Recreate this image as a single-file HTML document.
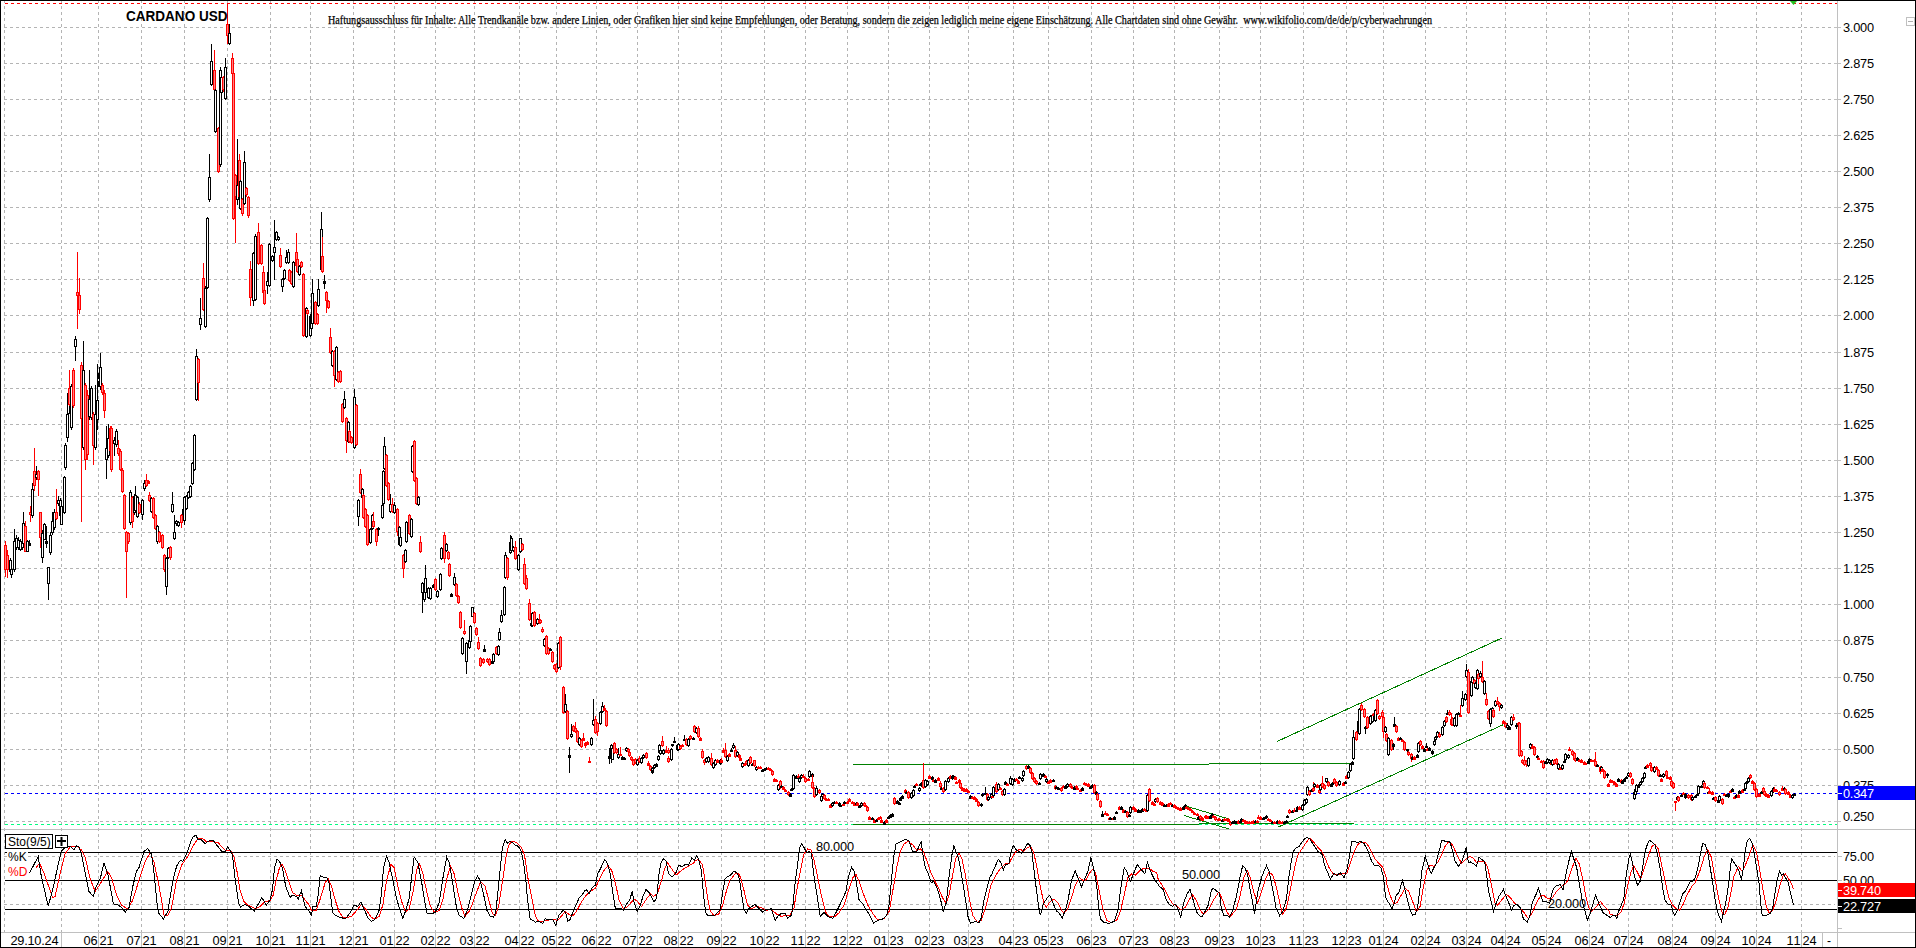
<!DOCTYPE html><html><head><meta charset="utf-8"><style>
html,body{margin:0;padding:0;background:#fff;overflow:hidden;}
svg{display:block;}
text{font-family:"Liberation Sans",sans-serif;}
</style></head><body>
<svg width="1916" height="948" viewBox="0 0 1916 948">
<rect x="0" y="0" width="1916" height="948" fill="#fff"/>
<path d="M4.5 0V932M61.5 0V932M98.5 0V932M141.5 0V932M184.5 0V932M227.5 0V932M270.5 0V932M310.5 0V932M353.5 0V932M394.5 0V932M435.5 0V932M474.5 0V932M519.5 0V932M556.5 0V932M596.5 0V932M637.5 0V932M678.5 0V932M721.5 0V932M764.5 0V932M805.5 0V932M847.5 0V932M888.5 0V932M929.5 0V932M968.5 0V932M1013.5 0V932M1048.5 0V932M1091.5 0V932M1133.5 0V932M1174.5 0V932M1219.5 0V932M1260.5 0V932M1303.5 0V932M1346.5 0V932M1383.5 0V932M1425.5 0V932M1466.5 0V932M1505.5 0V932M1546.5 0V932M1589.5 0V932M1628.5 0V932M1672.5 0V932M1715.5 0V932M1756.5 0V932M1801.5 0V932M4 27.5H1835M4 63.5H1835M4 99.5H1835M4 135.5H1835M4 171.5H1835M4 207.5H1835M4 243.5H1835M4 279.5H1835M4 315.5H1835M4 352.5H1835M4 388.5H1835M4 424.5H1835M4 460.5H1835M4 496.5H1835M4 532.5H1835M4 568.5H1835M4 604.5H1835M4 640.5H1835M4 677.5H1835M4 713.5H1835M4 749.5H1835M4 785.5H1835M4 821.5H1835M4 856.5H1835M4 904.5H1835" stroke="#b4b4b4" stroke-width="1" stroke-dasharray="3 3" fill="none" shape-rendering="crispEdges"/>
<path d="M61.5 933V947M98.5 933V947M141.5 933V947M184.5 933V947M227.5 933V947M270.5 933V947M310.5 933V947M353.5 933V947M394.5 933V947M435.5 933V947M474.5 933V947M519.5 933V947M556.5 933V947M596.5 933V947M637.5 933V947M678.5 933V947M721.5 933V947M764.5 933V947M805.5 933V947M847.5 933V947M888.5 933V947M929.5 933V947M968.5 933V947M1013.5 933V947M1048.5 933V947M1091.5 933V947M1133.5 933V947M1174.5 933V947M1219.5 933V947M1260.5 933V947M1303.5 933V947M1346.5 933V947M1383.5 933V947M1425.5 933V947M1466.5 933V947M1505.5 933V947M1546.5 933V947M1589.5 933V947M1628.5 933V947M1672.5 933V947M1715.5 933V947M1756.5 933V947M1801.5 933V947M1822.5 933V947M1834 27.5H1841M1834 63.5H1841M1834 99.5H1841M1834 135.5H1841M1834 171.5H1841M1834 207.5H1841M1834 243.5H1841M1834 279.5H1841M1834 315.5H1841M1834 352.5H1841M1834 388.5H1841M1834 424.5H1841M1834 460.5H1841M1834 496.5H1841M1834 532.5H1841M1834 568.5H1841M1834 604.5H1841M1834 640.5H1841M1834 677.5H1841M1834 713.5H1841M1834 749.5H1841M1834 785.5H1841M1834 821.5H1841M1838 856.5H1842M1838 880.5H1842M1838 904.5H1842M1838 928.5H1842" stroke="#c0c0c0" stroke-width="1" fill="none" shape-rendering="crispEdges"/>
<path d="M0 829.5H1916M0 932.5H1916M1837.5 0V948" stroke="#c0c0c0" stroke-width="1" fill="none" shape-rendering="crispEdges"/>
<path d="M5 3.5H1837" stroke="#ff0000" stroke-width="1" stroke-dasharray="3 3" shape-rendering="crispEdges"/>
<path d="M5 824.5H1837" stroke="#00ff80" stroke-width="1" stroke-dasharray="3 3" shape-rendering="crispEdges"/>
<path d="M5 793.5H1837" stroke="#0000ff" stroke-width="1" stroke-dasharray="3 3" shape-rendering="crispEdges"/>
<g stroke="#008000" stroke-width="1" fill="none" shape-rendering="crispEdges">
<path d="M853 765L1354 763.6"/>
<path d="M853 824.9L1354 823.6"/>
<path d="M1184 805.5L1229 819"/>
<path d="M1184 815.5L1229 829"/>
<path d="M1277.5 827.4L1503.2 724.7"/>
<path d="M1277 741.5L1502 638"/>
</g>
<g shape-rendering="crispEdges" stroke-width="1"><path d="M5.5 541V545M5.5 570V577" stroke="#f00"/><rect x="4.5" y="545.5" width="2" height="24" fill="#ff8080" stroke="#f00"/><path d="M7.5 550V555M7.5 570V578" stroke="#f00"/><rect x="6.5" y="555.5" width="2" height="14" fill="#ff8080" stroke="#f00"/><path d="M10.5 558V560" stroke="#000"/><rect x="9.5" y="560.5" width="2" height="11" fill="#fff" stroke="#000"/><path d="M11.5 566V569M11.5 575V578" stroke="#000"/><rect x="10.5" y="569.5" width="2" height="5" fill="#fff" stroke="#000"/><path d="M14.5 529V541M14.5 570V572" stroke="#000"/><rect x="13.5" y="541.5" width="2" height="28" fill="#fff" stroke="#000"/><path d="M16.5 535V538M16.5 548V550" stroke="#000"/><rect x="15.5" y="538.5" width="2" height="9" fill="#fff" stroke="#000"/><path d="M18.5 537V540M18.5 548V550" stroke="#000"/><rect x="17.5" y="540.5" width="2" height="7" fill="#fff" stroke="#000"/><path d="M20.5 539V541M20.5 550V551" stroke="#000"/><rect x="19.5" y="541.5" width="2" height="8" fill="#fff" stroke="#000"/><path d="M22.5 540V542M22.5 548V550" stroke="#000"/><rect x="21.5" y="542.5" width="2" height="5" fill="#fff" stroke="#000"/><path d="M23.5 512V523M23.5 544V546" stroke="#000"/><rect x="22.5" y="523.5" width="2" height="20" fill="#fff" stroke="#000"/><path d="M25.5 521V526" stroke="#f00"/><rect x="24.5" y="526.5" width="2" height="25" fill="#ff8080" stroke="#f00"/><path d="M27.5 540V541" stroke="#000"/><rect x="26.5" y="541.5" width="2" height="10" fill="#fff" stroke="#000"/><path d="M29.5 540V543M29.5 545V546" stroke="#000"/><rect x="28" y="543" width="3" height="3" fill="#000"/><path d="M30.5 506V512M30.5 515V522" stroke="#f00"/><rect x="29.5" y="512.5" width="2" height="2" fill="#ff8080" stroke="#f00"/><path d="M32.5 483V489M32.5 516V518" stroke="#000"/><rect x="31.5" y="489.5" width="2" height="26" fill="#fff" stroke="#000"/><path d="M34.5 448V471M34.5 486V491" stroke="#f00"/><rect x="33.5" y="471.5" width="2" height="14" fill="#ff8080" stroke="#f00"/><path d="M36.5 466V474M36.5 478V480" stroke="#000"/><rect x="35.5" y="474.5" width="2" height="3" fill="#fff" stroke="#000"/><path d="M38.5 470V471M38.5 480V496" stroke="#f00"/><rect x="37.5" y="471.5" width="2" height="8" fill="#ff8080" stroke="#f00"/><path d="M40.5 538V548" stroke="#f00"/><rect x="39.5" y="512.5" width="2" height="25" fill="#ff8080" stroke="#f00"/><path d="M42.5 530V533M42.5 558V563" stroke="#000"/><rect x="41.5" y="533.5" width="2" height="24" fill="#fff" stroke="#000"/><path d="M44.5 523V524" stroke="#000"/><rect x="43.5" y="524.5" width="2" height="15" fill="#fff" stroke="#000"/><path d="M46.5 526V541M46.5 543V548" stroke="#000"/><rect x="45" y="541" width="3" height="3" fill="#000"/><path d="M48.5 584V600" stroke="#000"/><rect x="47.5" y="567.5" width="2" height="16" fill="#fff" stroke="#000"/><path d="M50.5 532V535M50.5 553V555" stroke="#000"/><rect x="49.5" y="535.5" width="2" height="17" fill="#fff" stroke="#000"/><path d="M52.5 512V521M52.5 533V535" stroke="#000"/><rect x="51.5" y="521.5" width="2" height="11" fill="#fff" stroke="#000"/><path d="M54.5 509V512M54.5 528V530" stroke="#000"/><rect x="53.5" y="512.5" width="2" height="15" fill="#fff" stroke="#000"/><path d="M56.5 489V512M56.5 519V520" stroke="#f00"/><rect x="55.5" y="512.5" width="2" height="6" fill="#ff8080" stroke="#f00"/><path d="M58.5 496V500M58.5 504V506" stroke="#000"/><rect x="57.5" y="500.5" width="2" height="3" fill="#fff" stroke="#000"/><path d="M60.5 498V500M60.5 516V518" stroke="#000"/><rect x="59.5" y="500.5" width="2" height="15" fill="#fff" stroke="#000"/><path d="M61.5 504V506" stroke="#000"/><rect x="60.5" y="506.5" width="2" height="18" fill="#fff" stroke="#000"/><path d="M64.5 476V477M64.5 513V514" stroke="#000"/><rect x="63.5" y="477.5" width="2" height="35" fill="#fff" stroke="#000"/><path d="M65.5 443V445M65.5 468V470" stroke="#000"/><rect x="64.5" y="445.5" width="2" height="22" fill="#fff" stroke="#000"/><path d="M67.5 412V414M67.5 438V442" stroke="#000"/><rect x="66.5" y="414.5" width="2" height="23" fill="#fff" stroke="#000"/><path d="M68.5 390V393M68.5 414V416" stroke="#000"/><rect x="67.5" y="393.5" width="2" height="20" fill="#fff" stroke="#000"/><path d="M69.5 370V388M69.5 405V406" stroke="#f00"/><rect x="68.5" y="388.5" width="2" height="16" fill="#ff8080" stroke="#f00"/><path d="M71.5 384V386M71.5 428V430" stroke="#000"/><rect x="70.5" y="386.5" width="2" height="41" fill="#fff" stroke="#000"/><path d="M73.5 368V370M73.5 406V408" stroke="#f00"/><rect x="72.5" y="370.5" width="2" height="35" fill="#ff8080" stroke="#f00"/><path d="M75.5 336V339M75.5 347V361" stroke="#000"/><rect x="74.5" y="339.5" width="2" height="7" fill="#fff" stroke="#000"/><path d="M77.5 252V292M77.5 296V329" stroke="#f00"/><rect x="76.5" y="292.5" width="2" height="3" fill="#ff8080" stroke="#f00"/><path d="M79.5 278V295M79.5 310V314" stroke="#f00"/><rect x="78.5" y="295.5" width="2" height="14" fill="#ff8080" stroke="#f00"/><path d="M81.5 362V365M81.5 419V522" stroke="#f00"/><rect x="80.5" y="365.5" width="2" height="53" fill="#ff8080" stroke="#f00"/><path d="M83.5 341V370M83.5 448V450" stroke="#000"/><rect x="82.5" y="370.5" width="2" height="77" fill="#fff" stroke="#000"/><path d="M85.5 383V385M85.5 460V470" stroke="#f00"/><rect x="84.5" y="385.5" width="2" height="74" fill="#ff8080" stroke="#f00"/><path d="M87.5 390V395M87.5 455V460" stroke="#f00"/><rect x="86.5" y="395.5" width="2" height="59" fill="#ff8080" stroke="#f00"/><path d="M89.5 370V399M89.5 417V420" stroke="#000"/><rect x="88.5" y="399.5" width="2" height="17" fill="#fff" stroke="#000"/><path d="M91.5 386V388M91.5 418V420" stroke="#000"/><rect x="90.5" y="388.5" width="2" height="29" fill="#fff" stroke="#000"/><path d="M93.5 412V414M93.5 446V465" stroke="#f00"/><rect x="92.5" y="414.5" width="2" height="31" fill="#ff8080" stroke="#f00"/><path d="M95.5 385V414M95.5 448V450" stroke="#000"/><rect x="94.5" y="414.5" width="2" height="33" fill="#fff" stroke="#000"/><path d="M97.5 364V400M97.5 420V430" stroke="#000"/><rect x="96.5" y="400.5" width="2" height="19" fill="#fff" stroke="#000"/><path d="M98.5 373V378M98.5 382V387" stroke="#000"/><rect x="97.5" y="378.5" width="2" height="3" fill="#fff" stroke="#000"/><path d="M100.5 353V367M100.5 387V390" stroke="#000"/><rect x="99.5" y="367.5" width="2" height="19" fill="#fff" stroke="#000"/><path d="M102.5 383V385M102.5 393V395" stroke="#f00"/><rect x="101.5" y="385.5" width="2" height="7" fill="#ff8080" stroke="#f00"/><path d="M104.5 390V393M104.5 411V418" stroke="#f00"/><rect x="103.5" y="393.5" width="2" height="17" fill="#ff8080" stroke="#f00"/><path d="M106.5 426V448M106.5 460V479" stroke="#000"/><rect x="105.5" y="448.5" width="2" height="11" fill="#fff" stroke="#000"/><path d="M108.5 424V438M108.5 456V458" stroke="#000"/><rect x="107.5" y="438.5" width="2" height="17" fill="#fff" stroke="#000"/><path d="M110.5 426V428M110.5 451V452" stroke="#f00"/><rect x="109.5" y="428.5" width="2" height="22" fill="#ff8080" stroke="#f00"/><path d="M111.5 426V428M111.5 470V472" stroke="#f00"/><rect x="110.5" y="428.5" width="2" height="41" fill="#ff8080" stroke="#f00"/><path d="M114.5 437V440M114.5 444V456" stroke="#000"/><rect x="113.5" y="440.5" width="2" height="3" fill="#fff" stroke="#000"/><path d="M116.5 429V431M116.5 445V447" stroke="#000"/><rect x="115.5" y="431.5" width="2" height="13" fill="#fff" stroke="#000"/><path d="M118.5 440V448M118.5 454V456" stroke="#f00"/><rect x="117.5" y="448.5" width="2" height="5" fill="#ff8080" stroke="#f00"/><path d="M120.5 449V451M120.5 470V471" stroke="#f00"/><rect x="119.5" y="451.5" width="2" height="18" fill="#ff8080" stroke="#f00"/><path d="M122.5 468V470M122.5 492V493" stroke="#f00"/><rect x="121.5" y="470.5" width="2" height="21" fill="#ff8080" stroke="#f00"/><path d="M124.5 494V495M124.5 529V530" stroke="#f00"/><rect x="123.5" y="495.5" width="2" height="33" fill="#ff8080" stroke="#f00"/><path d="M126.5 531V532M126.5 552V598" stroke="#f00"/><rect x="125.5" y="532.5" width="2" height="19" fill="#ff8080" stroke="#f00"/><path d="M128.5 532V533M128.5 542V544" stroke="#f00"/><rect x="127.5" y="533.5" width="2" height="8" fill="#ff8080" stroke="#f00"/><path d="M130.5 490V492M130.5 523V525" stroke="#000"/><rect x="129.5" y="492.5" width="2" height="30" fill="#fff" stroke="#000"/><path d="M132.5 496V497M132.5 522V528" stroke="#f00"/><rect x="131.5" y="497.5" width="2" height="24" fill="#ff8080" stroke="#f00"/><path d="M134.5 494V496M134.5 513V515" stroke="#000"/><rect x="133.5" y="496.5" width="2" height="16" fill="#fff" stroke="#000"/><path d="M135.5 486V495M135.5 511V513" stroke="#000"/><rect x="134.5" y="495.5" width="2" height="15" fill="#fff" stroke="#000"/><path d="M137.5 496V497M137.5 517V518" stroke="#000"/><rect x="136.5" y="497.5" width="2" height="19" fill="#fff" stroke="#000"/><path d="M139.5 502V504M139.5 513V514" stroke="#f00"/><rect x="138.5" y="504.5" width="2" height="8" fill="#ff8080" stroke="#f00"/><path d="M142.5 499V500M142.5 515V520" stroke="#000"/><rect x="141.5" y="500.5" width="2" height="14" fill="#fff" stroke="#000"/><path d="M144.5 480V483M144.5 489V491" stroke="#000"/><rect x="143.5" y="483.5" width="2" height="5" fill="#fff" stroke="#000"/><path d="M146.5 474V480M146.5 486V487" stroke="#f00"/><rect x="145.5" y="480.5" width="2" height="5" fill="#ff8080" stroke="#f00"/><path d="M148.5 480V481M148.5 483V484" stroke="#f00"/><rect x="147" y="481" width="3" height="3" fill="#f00"/><path d="M149.5 492V495M149.5 501V502" stroke="#f00"/><rect x="148.5" y="495.5" width="2" height="5" fill="#ff8080" stroke="#f00"/><path d="M151.5 497V498M151.5 512V513" stroke="#000"/><rect x="150.5" y="498.5" width="2" height="13" fill="#fff" stroke="#000"/><path d="M153.5 497V498M153.5 518V519" stroke="#f00"/><rect x="152.5" y="498.5" width="2" height="19" fill="#ff8080" stroke="#f00"/><path d="M155.5 514V515M155.5 529V530" stroke="#f00"/><rect x="154.5" y="515.5" width="2" height="13" fill="#ff8080" stroke="#f00"/><path d="M157.5 525V526M157.5 542V544" stroke="#000"/><rect x="156.5" y="526.5" width="2" height="15" fill="#fff" stroke="#000"/><path d="M159.5 531V532M159.5 542V543" stroke="#f00"/><rect x="158.5" y="532.5" width="2" height="9" fill="#ff8080" stroke="#f00"/><path d="M162.5 534V535M162.5 548V549" stroke="#f00"/><rect x="161.5" y="535.5" width="2" height="12" fill="#ff8080" stroke="#f00"/><path d="M164.5 554V555M164.5 570V572" stroke="#f00"/><rect x="163.5" y="555.5" width="2" height="14" fill="#ff8080" stroke="#f00"/><path d="M166.5 557V558M166.5 587V595" stroke="#000"/><rect x="165.5" y="558.5" width="2" height="28" fill="#fff" stroke="#000"/><path d="M168.5 547V548M168.5 558V559" stroke="#000"/><rect x="167.5" y="548.5" width="2" height="9" fill="#fff" stroke="#000"/><path d="M170.5 546V547M170.5 558V560" stroke="#f00"/><rect x="169.5" y="547.5" width="2" height="10" fill="#ff8080" stroke="#f00"/><path d="M172.5 492V504M172.5 512V513" stroke="#000"/><rect x="171.5" y="504.5" width="2" height="7" fill="#fff" stroke="#000"/><path d="M174.5 515V532M174.5 539V540" stroke="#000"/><rect x="173.5" y="532.5" width="2" height="6" fill="#fff" stroke="#000"/><path d="M176.5 520V521M176.5 524V526" stroke="#000"/><rect x="175.5" y="521.5" width="2" height="2" fill="#fff" stroke="#000"/><path d="M178.5 521V522M178.5 526V527" stroke="#000"/><rect x="177.5" y="522.5" width="2" height="3" fill="#fff" stroke="#000"/><path d="M181.5 514V515M181.5 523V528" stroke="#f00"/><rect x="180.5" y="515.5" width="2" height="7" fill="#ff8080" stroke="#f00"/><path d="M183.5 508V509M183.5 515V516" stroke="#000"/><rect x="182.5" y="509.5" width="2" height="5" fill="#fff" stroke="#000"/><path d="M184.5 496V497M184.5 521V525" stroke="#000"/><rect x="183.5" y="497.5" width="2" height="23" fill="#fff" stroke="#000"/><path d="M186.5 495V496M186.5 509V510" stroke="#000"/><rect x="185.5" y="496.5" width="2" height="12" fill="#fff" stroke="#000"/><path d="M188.5 491V492M188.5 498V499" stroke="#000"/><rect x="187.5" y="492.5" width="2" height="5" fill="#fff" stroke="#000"/><path d="M190.5 485V486M190.5 497V498" stroke="#000"/><rect x="189.5" y="486.5" width="2" height="10" fill="#fff" stroke="#000"/><path d="M192.5 462V463M192.5 484V485" stroke="#000"/><rect x="191.5" y="463.5" width="2" height="20" fill="#fff" stroke="#000"/><path d="M194.5 434V435M194.5 470V471" stroke="#000"/><rect x="193.5" y="435.5" width="2" height="34" fill="#fff" stroke="#000"/><path d="M196.5 349V356M196.5 400V401" stroke="#000"/><rect x="195.5" y="356.5" width="2" height="43" fill="#fff" stroke="#000"/><path d="M198.5 358V359M198.5 383V401" stroke="#f00"/><rect x="197.5" y="359.5" width="2" height="23" fill="#ff8080" stroke="#f00"/><path d="M200.5 298V318M200.5 325V330" stroke="#000"/><rect x="199.5" y="318.5" width="2" height="6" fill="#fff" stroke="#000"/><path d="M203.5 263V278M203.5 310V311" stroke="#f00"/><rect x="202.5" y="278.5" width="2" height="31" fill="#ff8080" stroke="#f00"/><path d="M205.5 286V288M205.5 327V328" stroke="#000"/><rect x="204.5" y="288.5" width="2" height="38" fill="#fff" stroke="#000"/><path d="M207.5 217V218M207.5 288V289" stroke="#000"/><rect x="206.5" y="218.5" width="2" height="69" fill="#fff" stroke="#000"/><path d="M209.5 154V177M209.5 200V202" stroke="#000"/><rect x="208.5" y="177.5" width="2" height="22" fill="#fff" stroke="#000"/><path d="M211.5 44V61M211.5 85V86" stroke="#000"/><rect x="210.5" y="61.5" width="2" height="23" fill="#fff" stroke="#000"/><path d="M214.5 50V70M214.5 90V130" stroke="#f00"/><rect x="213.5" y="70.5" width="2" height="19" fill="#ff8080" stroke="#f00"/><path d="M215.5 89V90M215.5 132V133" stroke="#000"/><rect x="214.5" y="90.5" width="2" height="41" fill="#fff" stroke="#000"/><path d="M218.5 127V128M218.5 172V173" stroke="#f00"/><rect x="217.5" y="128.5" width="2" height="43" fill="#ff8080" stroke="#f00"/><path d="M220.5 67V70M220.5 165V167" stroke="#000"/><rect x="219.5" y="70.5" width="2" height="94" fill="#fff" stroke="#000"/><path d="M221.5 76V77M221.5 93V94" stroke="#000"/><rect x="220.5" y="77.5" width="2" height="15" fill="#fff" stroke="#000"/><path d="M223.5 76V77M223.5 90V92" stroke="#f00"/><rect x="222.5" y="77.5" width="2" height="12" fill="#ff8080" stroke="#f00"/><path d="M225.5 58V67M225.5 99V100" stroke="#000"/><rect x="224.5" y="67.5" width="2" height="31" fill="#fff" stroke="#000"/><path d="M227.5 3V24M227.5 36V44" stroke="#f00"/><rect x="226.5" y="24.5" width="2" height="11" fill="#ff8080" stroke="#f00"/><path d="M229.5 24V33M229.5 44V45" stroke="#000"/><rect x="228.5" y="33.5" width="2" height="10" fill="#fff" stroke="#000"/><path d="M232.5 53V58M232.5 74V75" stroke="#f00"/><rect x="231.5" y="58.5" width="2" height="15" fill="#ff8080" stroke="#f00"/><path d="M233.5 72V73M233.5 219V220" stroke="#f00"/><rect x="232.5" y="73.5" width="2" height="145" fill="#ff8080" stroke="#f00"/><path d="M235.5 174V175M235.5 197V243" stroke="#f00"/><rect x="234.5" y="175.5" width="2" height="21" fill="#ff8080" stroke="#f00"/><path d="M237.5 139V185M237.5 200V205" stroke="#000"/><rect x="236.5" y="185.5" width="2" height="14" fill="#fff" stroke="#000"/><path d="M239.5 154V160M239.5 197V198" stroke="#f00"/><rect x="238.5" y="160.5" width="2" height="36" fill="#ff8080" stroke="#f00"/><path d="M240.5 180V181M240.5 209V210" stroke="#000"/><rect x="239.5" y="181.5" width="2" height="27" fill="#fff" stroke="#000"/><path d="M242.5 198V199M242.5 214V216" stroke="#f00"/><rect x="241.5" y="199.5" width="2" height="14" fill="#ff8080" stroke="#f00"/><path d="M244.5 151V162M244.5 204V205" stroke="#000"/><rect x="243.5" y="162.5" width="2" height="41" fill="#fff" stroke="#000"/><path d="M246.5 187V188M246.5 195V197" stroke="#f00"/><rect x="245.5" y="188.5" width="2" height="6" fill="#ff8080" stroke="#f00"/><path d="M248.5 196V197M248.5 216V218" stroke="#f00"/><rect x="247.5" y="197.5" width="2" height="18" fill="#ff8080" stroke="#f00"/><path d="M250.5 261V269M250.5 298V306" stroke="#f00"/><rect x="249.5" y="269.5" width="2" height="28" fill="#ff8080" stroke="#f00"/><path d="M253.5 252V253M253.5 301V306" stroke="#000"/><rect x="252.5" y="253.5" width="2" height="47" fill="#fff" stroke="#000"/><path d="M255.5 234V236M255.5 300V301" stroke="#000"/><rect x="254.5" y="236.5" width="2" height="63" fill="#fff" stroke="#000"/><path d="M258.5 223V232M258.5 264V265" stroke="#f00"/><rect x="257.5" y="232.5" width="2" height="31" fill="#ff8080" stroke="#f00"/><path d="M261.5 244V245M261.5 264V265" stroke="#f00"/><rect x="260.5" y="245.5" width="2" height="18" fill="#ff8080" stroke="#f00"/><path d="M263.5 266V272M263.5 293V294" stroke="#f00"/><rect x="262.5" y="272.5" width="2" height="20" fill="#ff8080" stroke="#f00"/><path d="M264.5 289V290M264.5 304V305" stroke="#f00"/><rect x="263.5" y="290.5" width="2" height="13" fill="#ff8080" stroke="#f00"/><path d="M267.5 272V281M267.5 286V294" stroke="#000"/><rect x="266.5" y="281.5" width="2" height="4" fill="#fff" stroke="#000"/><path d="M269.5 243V244M269.5 286V287" stroke="#000"/><rect x="268.5" y="244.5" width="2" height="41" fill="#fff" stroke="#000"/><path d="M272.5 255V256M272.5 261V262" stroke="#000"/><rect x="271.5" y="256.5" width="2" height="4" fill="#fff" stroke="#000"/><path d="M274.5 220V247M274.5 253V280" stroke="#000"/><rect x="273.5" y="247.5" width="2" height="5" fill="#fff" stroke="#000"/><path d="M276.5 231V232M276.5 240V241" stroke="#000"/><rect x="275.5" y="232.5" width="2" height="7" fill="#fff" stroke="#000"/><path d="M278.5 236V237M278.5 240V241" stroke="#000"/><rect x="277.5" y="237.5" width="2" height="2" fill="#fff" stroke="#000"/><path d="M280.5 248V255M280.5 267V268" stroke="#f00"/><rect x="279.5" y="255.5" width="2" height="11" fill="#ff8080" stroke="#f00"/><path d="M282.5 278V279M282.5 287V292" stroke="#000"/><rect x="281.5" y="279.5" width="2" height="7" fill="#fff" stroke="#000"/><path d="M284.5 269V270M284.5 279V280" stroke="#000"/><rect x="283.5" y="270.5" width="2" height="8" fill="#fff" stroke="#000"/><path d="M286.5 250V257M286.5 263V264" stroke="#000"/><rect x="285.5" y="257.5" width="2" height="5" fill="#fff" stroke="#000"/><path d="M288.5 249V252M288.5 263V264" stroke="#000"/><rect x="287.5" y="252.5" width="2" height="10" fill="#fff" stroke="#000"/><path d="M289.5 269V270M289.5 281V282" stroke="#f00"/><rect x="288.5" y="270.5" width="2" height="10" fill="#ff8080" stroke="#f00"/><path d="M291.5 271V272M291.5 284V285" stroke="#f00"/><rect x="290.5" y="272.5" width="2" height="11" fill="#ff8080" stroke="#f00"/><path d="M293.5 261V262M293.5 287V288" stroke="#000"/><rect x="292.5" y="262.5" width="2" height="24" fill="#fff" stroke="#000"/><path d="M296.5 233V252M296.5 266V267" stroke="#f00"/><rect x="295.5" y="252.5" width="2" height="13" fill="#ff8080" stroke="#f00"/><path d="M297.5 258V259M297.5 272V273" stroke="#f00"/><rect x="296.5" y="259.5" width="2" height="12" fill="#ff8080" stroke="#f00"/><path d="M299.5 265V266M299.5 275V276" stroke="#000"/><rect x="298.5" y="266.5" width="2" height="8" fill="#fff" stroke="#000"/><path d="M301.5 261V262M301.5 267V268" stroke="#f00"/><rect x="300.5" y="262.5" width="2" height="4" fill="#ff8080" stroke="#f00"/><path d="M303.5 273V274M303.5 336V337" stroke="#f00"/><rect x="302.5" y="274.5" width="2" height="61" fill="#ff8080" stroke="#f00"/><path d="M306.5 307V308M306.5 337V338" stroke="#000"/><rect x="305.5" y="308.5" width="2" height="28" fill="#fff" stroke="#000"/><path d="M307.5 309V310M307.5 314V315" stroke="#f00"/><rect x="306.5" y="310.5" width="2" height="3" fill="#ff8080" stroke="#f00"/><path d="M310.5 315V316M310.5 336V337" stroke="#000"/><rect x="309.5" y="316.5" width="2" height="19" fill="#fff" stroke="#000"/><path d="M311.5 313V314M311.5 329V330" stroke="#000"/><rect x="310.5" y="314.5" width="2" height="14" fill="#fff" stroke="#000"/><path d="M312.5 279V293M312.5 324V325" stroke="#000"/><rect x="311.5" y="293.5" width="2" height="30" fill="#fff" stroke="#000"/><path d="M315.5 301V302M315.5 324V325" stroke="#f00"/><rect x="314.5" y="302.5" width="2" height="21" fill="#ff8080" stroke="#f00"/><path d="M317.5 313V314M317.5 324V325" stroke="#f00"/><rect x="316.5" y="314.5" width="2" height="9" fill="#ff8080" stroke="#f00"/><path d="M318.5 279V289M318.5 306V307" stroke="#000"/><rect x="317.5" y="289.5" width="2" height="16" fill="#fff" stroke="#000"/><path d="M321.5 212V229M321.5 270V271" stroke="#000"/><rect x="320.5" y="229.5" width="2" height="40" fill="#fff" stroke="#000"/><path d="M322.5 237V256M322.5 272V273" stroke="#f00"/><rect x="321.5" y="256.5" width="2" height="15" fill="#ff8080" stroke="#f00"/><path d="M324.5 275V281M324.5 283V289" stroke="#000"/><rect x="323" y="281" width="3" height="3" fill="#000"/><path d="M326.5 291V292M326.5 301V313" stroke="#f00"/><rect x="325.5" y="292.5" width="2" height="8" fill="#ff8080" stroke="#f00"/><path d="M328.5 300V301M328.5 308V309" stroke="#f00"/><rect x="327.5" y="301.5" width="2" height="6" fill="#ff8080" stroke="#f00"/><path d="M330.5 328V337M330.5 353V354" stroke="#f00"/><rect x="329.5" y="337.5" width="2" height="15" fill="#ff8080" stroke="#f00"/><path d="M332.5 350V351M332.5 366V367" stroke="#000"/><rect x="331.5" y="351.5" width="2" height="14" fill="#fff" stroke="#000"/><path d="M334.5 350V351M334.5 376V387" stroke="#f00"/><rect x="333.5" y="351.5" width="2" height="24" fill="#ff8080" stroke="#f00"/><path d="M336.5 346V347M336.5 380V381" stroke="#000"/><rect x="335.5" y="347.5" width="2" height="32" fill="#fff" stroke="#000"/><path d="M338.5 371V372M338.5 382V383" stroke="#f00"/><rect x="337.5" y="372.5" width="2" height="9" fill="#ff8080" stroke="#f00"/><path d="M340.5 370V371M340.5 382V383" stroke="#f00"/><rect x="339.5" y="371.5" width="2" height="10" fill="#ff8080" stroke="#f00"/><path d="M342.5 403V404M342.5 422V423" stroke="#f00"/><rect x="341.5" y="404.5" width="2" height="17" fill="#ff8080" stroke="#f00"/><path d="M344.5 391V399M344.5 408V409" stroke="#000"/><rect x="343.5" y="399.5" width="2" height="8" fill="#fff" stroke="#000"/><path d="M346.5 417V418M346.5 441V453" stroke="#f00"/><rect x="345.5" y="418.5" width="2" height="22" fill="#ff8080" stroke="#f00"/><path d="M348.5 421V422M348.5 442V443" stroke="#000"/><rect x="347.5" y="422.5" width="2" height="19" fill="#fff" stroke="#000"/><path d="M349.5 430V431M349.5 442V443" stroke="#f00"/><rect x="348.5" y="431.5" width="2" height="10" fill="#ff8080" stroke="#f00"/><path d="M351.5 436V437M351.5 443V444" stroke="#f00"/><rect x="350.5" y="437.5" width="2" height="5" fill="#ff8080" stroke="#f00"/><path d="M354.5 389V397M354.5 448V449" stroke="#000"/><rect x="353.5" y="397.5" width="2" height="50" fill="#fff" stroke="#000"/><path d="M356.5 404V405M356.5 445V446" stroke="#f00"/><rect x="355.5" y="405.5" width="2" height="39" fill="#ff8080" stroke="#f00"/><path d="M358.5 499V500M358.5 517V526" stroke="#000"/><rect x="357.5" y="500.5" width="2" height="16" fill="#fff" stroke="#000"/><path d="M360.5 469V474M360.5 493V494" stroke="#f00"/><rect x="359.5" y="474.5" width="2" height="18" fill="#ff8080" stroke="#f00"/><path d="M362.5 488V489M362.5 498V499" stroke="#000"/><rect x="361.5" y="489.5" width="2" height="8" fill="#fff" stroke="#000"/><path d="M363.5 494V495M363.5 518V519" stroke="#f00"/><rect x="362.5" y="495.5" width="2" height="22" fill="#ff8080" stroke="#f00"/><path d="M365.5 508V509M365.5 527V528" stroke="#f00"/><rect x="364.5" y="509.5" width="2" height="17" fill="#ff8080" stroke="#f00"/><path d="M367.5 514V515M367.5 545V546" stroke="#f00"/><rect x="366.5" y="515.5" width="2" height="29" fill="#ff8080" stroke="#f00"/><path d="M370.5 528V529M370.5 543V544" stroke="#000"/><rect x="369.5" y="529.5" width="2" height="13" fill="#fff" stroke="#000"/><path d="M372.5 514V515M372.5 529V530" stroke="#000"/><rect x="371.5" y="515.5" width="2" height="13" fill="#fff" stroke="#000"/><path d="M373.5 512V521M373.5 527V528" stroke="#f00"/><rect x="372.5" y="521.5" width="2" height="5" fill="#ff8080" stroke="#f00"/><path d="M376.5 528V529M376.5 542V546" stroke="#f00"/><rect x="375.5" y="529.5" width="2" height="12" fill="#ff8080" stroke="#f00"/><path d="M378.5 527V528M378.5 529V536" stroke="#000"/><rect x="377" y="528" width="3" height="2" fill="#000"/><path d="M382.5 504V505M382.5 518V519" stroke="#000"/><rect x="381.5" y="505.5" width="2" height="12" fill="#fff" stroke="#000"/><path d="M383.5 470V471M383.5 504V505" stroke="#000"/><rect x="382.5" y="471.5" width="2" height="32" fill="#fff" stroke="#000"/><path d="M384.5 437V446M384.5 469V470" stroke="#000"/><rect x="383.5" y="446.5" width="2" height="22" fill="#fff" stroke="#000"/><path d="M386.5 454V455M386.5 486V487" stroke="#f00"/><rect x="385.5" y="455.5" width="2" height="30" fill="#ff8080" stroke="#f00"/><path d="M388.5 482V483M388.5 500V501" stroke="#f00"/><rect x="387.5" y="483.5" width="2" height="16" fill="#ff8080" stroke="#f00"/><path d="M390.5 494V504M390.5 512V513" stroke="#000"/><rect x="389.5" y="504.5" width="2" height="7" fill="#fff" stroke="#000"/><path d="M392.5 498V504M392.5 512V513" stroke="#f00"/><rect x="391.5" y="504.5" width="2" height="7" fill="#ff8080" stroke="#f00"/><path d="M394.5 502V505M394.5 513V514" stroke="#000"/><rect x="393.5" y="505.5" width="2" height="7" fill="#fff" stroke="#000"/><path d="M397.5 508V509M397.5 532V536" stroke="#f00"/><rect x="396.5" y="509.5" width="2" height="22" fill="#ff8080" stroke="#f00"/><path d="M399.5 526V527M399.5 545V546" stroke="#000"/><rect x="398.5" y="527.5" width="2" height="17" fill="#fff" stroke="#000"/><path d="M400.5 536V537M400.5 546V547" stroke="#000"/><rect x="399.5" y="537.5" width="2" height="8" fill="#fff" stroke="#000"/><path d="M403.5 554V555M403.5 569V578" stroke="#f00"/><rect x="402.5" y="555.5" width="2" height="13" fill="#ff8080" stroke="#f00"/><path d="M405.5 549V550M405.5 562V563" stroke="#000"/><rect x="404.5" y="550.5" width="2" height="11" fill="#fff" stroke="#000"/><path d="M406.5 521V522M406.5 542V543" stroke="#000"/><rect x="405.5" y="522.5" width="2" height="19" fill="#fff" stroke="#000"/><path d="M409.5 514V515M409.5 534V535" stroke="#f00"/><rect x="408.5" y="515.5" width="2" height="18" fill="#ff8080" stroke="#f00"/><path d="M411.5 518V519M411.5 537V538" stroke="#000"/><rect x="410.5" y="519.5" width="2" height="17" fill="#fff" stroke="#000"/><path d="M412.5 445V446M412.5 472V473" stroke="#000"/><rect x="411.5" y="446.5" width="2" height="25" fill="#fff" stroke="#000"/><path d="M414.5 440V441M414.5 481V482" stroke="#f00"/><rect x="413.5" y="441.5" width="2" height="39" fill="#ff8080" stroke="#f00"/><path d="M416.5 477V478M416.5 504V505" stroke="#f00"/><rect x="415.5" y="478.5" width="2" height="25" fill="#ff8080" stroke="#f00"/><path d="M418.5 496V497M418.5 505V506" stroke="#000"/><rect x="417.5" y="497.5" width="2" height="7" fill="#fff" stroke="#000"/><path d="M420.5 536V542M420.5 552V553" stroke="#f00"/><rect x="419.5" y="542.5" width="2" height="9" fill="#ff8080" stroke="#f00"/><path d="M422.5 582V583M422.5 593V613" stroke="#000"/><rect x="421.5" y="583.5" width="2" height="9" fill="#fff" stroke="#000"/><path d="M424.5 587V588M424.5 600V602" stroke="#000"/><rect x="423.5" y="588.5" width="2" height="11" fill="#fff" stroke="#000"/><path d="M425.5 565V578M425.5 593V594" stroke="#000"/><rect x="424.5" y="578.5" width="2" height="14" fill="#fff" stroke="#000"/><path d="M428.5 587V588M428.5 598V599" stroke="#000"/><rect x="427.5" y="588.5" width="2" height="9" fill="#fff" stroke="#000"/><path d="M430.5 587V588M430.5 599V600" stroke="#000"/><rect x="429.5" y="588.5" width="2" height="10" fill="#fff" stroke="#000"/><path d="M433.5 584V585M433.5 587V588" stroke="#000"/><rect x="432" y="585" width="3" height="3" fill="#000"/><path d="M435.5 578V579M435.5 590V591" stroke="#f00"/><rect x="434.5" y="579.5" width="2" height="10" fill="#ff8080" stroke="#f00"/><path d="M437.5 590V591M437.5 597V598" stroke="#000"/><rect x="436.5" y="591.5" width="2" height="5" fill="#fff" stroke="#000"/><path d="M440.5 573V574M440.5 590V591" stroke="#000"/><rect x="439.5" y="574.5" width="2" height="15" fill="#fff" stroke="#000"/><path d="M441.5 547V548M441.5 559V560" stroke="#000"/><rect x="440.5" y="548.5" width="2" height="10" fill="#fff" stroke="#000"/><path d="M444.5 532V535M444.5 559V563" stroke="#f00"/><rect x="443.5" y="535.5" width="2" height="23" fill="#ff8080" stroke="#f00"/><path d="M446.5 543V544M446.5 551V552" stroke="#000"/><rect x="445.5" y="544.5" width="2" height="6" fill="#fff" stroke="#000"/><path d="M448.5 551V552M448.5 559V560" stroke="#f00"/><rect x="447.5" y="552.5" width="2" height="6" fill="#ff8080" stroke="#f00"/><path d="M449.5 563V564M449.5 576V577" stroke="#f00"/><rect x="448.5" y="564.5" width="2" height="11" fill="#ff8080" stroke="#f00"/><path d="M451.5 593V594M451.5 596V597" stroke="#000"/><rect x="450" y="594" width="3" height="3" fill="#000"/><path d="M454.5 573V577M454.5 585V586" stroke="#000"/><rect x="453.5" y="577.5" width="2" height="7" fill="#fff" stroke="#000"/><path d="M456.5 583V584M456.5 596V597" stroke="#f00"/><rect x="455.5" y="584.5" width="2" height="11" fill="#ff8080" stroke="#f00"/><path d="M458.5 595V596M458.5 603V604" stroke="#f00"/><rect x="457.5" y="596.5" width="2" height="6" fill="#ff8080" stroke="#f00"/><path d="M460.5 611V612M460.5 628V629" stroke="#f00"/><rect x="459.5" y="612.5" width="2" height="15" fill="#ff8080" stroke="#f00"/><path d="M462.5 637V638M462.5 654V655" stroke="#000"/><rect x="461.5" y="638.5" width="2" height="15" fill="#fff" stroke="#000"/><path d="M464.5 620V631M464.5 634V635" stroke="#f00"/><rect x="463.5" y="631.5" width="2" height="2" fill="#ff8080" stroke="#f00"/><path d="M466.5 642V643M466.5 662V674" stroke="#000"/><rect x="465.5" y="643.5" width="2" height="18" fill="#fff" stroke="#000"/><path d="M469.5 639V640M469.5 648V649" stroke="#000"/><rect x="468.5" y="640.5" width="2" height="7" fill="#fff" stroke="#000"/><path d="M470.5 625V626M470.5 642V643" stroke="#000"/><rect x="469.5" y="626.5" width="2" height="15" fill="#fff" stroke="#000"/><rect x="471.5" y="607.5" width="2" height="9" fill="#fff" stroke="#000"/><path d="M474.5 612V613M474.5 623V624" stroke="#f00"/><rect x="473.5" y="613.5" width="2" height="9" fill="#ff8080" stroke="#f00"/><path d="M476.5 627V628M476.5 635V636" stroke="#f00"/><rect x="475.5" y="628.5" width="2" height="6" fill="#ff8080" stroke="#f00"/><path d="M478.5 637V642M478.5 649V650" stroke="#f00"/><rect x="477.5" y="642.5" width="2" height="6" fill="#ff8080" stroke="#f00"/><path d="M480.5 657V658M480.5 666V667" stroke="#f00"/><rect x="479.5" y="658.5" width="2" height="7" fill="#ff8080" stroke="#f00"/><path d="M483.5 658V659M483.5 663V664" stroke="#f00"/><rect x="482.5" y="659.5" width="2" height="3" fill="#ff8080" stroke="#f00"/><path d="M484.5 645V649M484.5 651V652" stroke="#000"/><rect x="483" y="649" width="3" height="3" fill="#000"/><path d="M487.5 658V659M487.5 662V663" stroke="#f00"/><rect x="486.5" y="659.5" width="2" height="2" fill="#ff8080" stroke="#f00"/><path d="M489.5 658V659M489.5 665V666" stroke="#f00"/><rect x="488.5" y="659.5" width="2" height="5" fill="#ff8080" stroke="#f00"/><path d="M492.5 660V661M492.5 663V664" stroke="#000"/><rect x="491" y="661" width="3" height="3" fill="#000"/><path d="M493.5 653V654M493.5 662V663" stroke="#000"/><rect x="492.5" y="654.5" width="2" height="7" fill="#fff" stroke="#000"/><path d="M496.5 646V647M496.5 654V655" stroke="#f00"/><rect x="495.5" y="647.5" width="2" height="6" fill="#ff8080" stroke="#f00"/><path d="M498.5 645V646M498.5 655V656" stroke="#000"/><rect x="497.5" y="646.5" width="2" height="8" fill="#fff" stroke="#000"/><path d="M499.5 628V632M499.5 640V641" stroke="#000"/><rect x="498.5" y="632.5" width="2" height="7" fill="#fff" stroke="#000"/><path d="M501.5 610V615M501.5 622V623" stroke="#000"/><rect x="500.5" y="615.5" width="2" height="6" fill="#fff" stroke="#000"/><path d="M504.5 586V587M504.5 615V616" stroke="#000"/><rect x="503.5" y="587.5" width="2" height="27" fill="#fff" stroke="#000"/><path d="M505.5 552V555M505.5 578V579" stroke="#000"/><rect x="504.5" y="555.5" width="2" height="22" fill="#fff" stroke="#000"/><path d="M507.5 557V558M507.5 578V580" stroke="#f00"/><rect x="506.5" y="558.5" width="2" height="19" fill="#ff8080" stroke="#f00"/><path d="M510.5 535V542M510.5 553V554" stroke="#000"/><rect x="509.5" y="542.5" width="2" height="10" fill="#fff" stroke="#000"/><path d="M511.5 536V538M511.5 551V552" stroke="#000"/><rect x="510.5" y="538.5" width="2" height="12" fill="#fff" stroke="#000"/><path d="M513.5 546V547M513.5 551V552" stroke="#000"/><rect x="512.5" y="547.5" width="2" height="3" fill="#fff" stroke="#000"/><path d="M515.5 541V547M515.5 559V560" stroke="#f00"/><rect x="514.5" y="547.5" width="2" height="11" fill="#ff8080" stroke="#f00"/><path d="M518.5 554V555M518.5 570V571" stroke="#000"/><rect x="517.5" y="555.5" width="2" height="14" fill="#fff" stroke="#000"/><path d="M520.5 552V553" stroke="#000"/><rect x="519.5" y="538.5" width="2" height="13" fill="#fff" stroke="#000"/><path d="M522.5 543V544M522.5 550V551" stroke="#f00"/><rect x="521.5" y="544.5" width="2" height="5" fill="#ff8080" stroke="#f00"/><path d="M524.5 558V564M524.5 584V585" stroke="#f00"/><rect x="523.5" y="564.5" width="2" height="19" fill="#ff8080" stroke="#f00"/><path d="M526.5 575V578M526.5 589V590" stroke="#f00"/><rect x="525.5" y="578.5" width="2" height="10" fill="#ff8080" stroke="#f00"/><path d="M529.5 599V603M529.5 620V621" stroke="#f00"/><rect x="528.5" y="603.5" width="2" height="16" fill="#ff8080" stroke="#f00"/><path d="M531.5 622V623M531.5 626V627" stroke="#000"/><rect x="530.5" y="623.5" width="2" height="2" fill="#fff" stroke="#000"/><path d="M532.5 612V613M532.5 626V627" stroke="#000"/><rect x="531.5" y="613.5" width="2" height="12" fill="#fff" stroke="#000"/><path d="M534.5 611V612M534.5 626V627" stroke="#f00"/><rect x="533.5" y="612.5" width="2" height="13" fill="#ff8080" stroke="#f00"/><path d="M537.5 618V619M537.5 624V625" stroke="#000"/><rect x="536.5" y="619.5" width="2" height="4" fill="#fff" stroke="#000"/><path d="M539.5 614V620M539.5 623V624" stroke="#f00"/><rect x="538.5" y="620.5" width="2" height="2" fill="#ff8080" stroke="#f00"/><path d="M540.5 619V620M540.5 623V624" stroke="#f00"/><rect x="539.5" y="620.5" width="2" height="2" fill="#ff8080" stroke="#f00"/><path d="M542.5 627V629M542.5 632V633" stroke="#f00"/><rect x="541.5" y="629.5" width="2" height="2" fill="#ff8080" stroke="#f00"/><path d="M544.5 638V639M544.5 646V647" stroke="#000"/><rect x="543.5" y="639.5" width="2" height="6" fill="#fff" stroke="#000"/><path d="M546.5 635V636M546.5 654V655" stroke="#f00"/><rect x="545.5" y="636.5" width="2" height="17" fill="#ff8080" stroke="#f00"/><path d="M548.5 647V648M548.5 654V655" stroke="#f00"/><rect x="547.5" y="648.5" width="2" height="5" fill="#ff8080" stroke="#f00"/><path d="M550.5 648V649M550.5 650V651" stroke="#000"/><rect x="549" y="649" width="3" height="2" fill="#000"/><path d="M552.5 651V652M552.5 662V663" stroke="#f00"/><rect x="551.5" y="652.5" width="2" height="9" fill="#ff8080" stroke="#f00"/><path d="M554.5 664V665M554.5 669V670" stroke="#f00"/><rect x="553.5" y="665.5" width="2" height="3" fill="#ff8080" stroke="#f00"/><path d="M556.5 663V664M556.5 672V673" stroke="#f00"/><rect x="555.5" y="664.5" width="2" height="7" fill="#ff8080" stroke="#f00"/><path d="M558.5 642V643M558.5 668V669" stroke="#000"/><rect x="557.5" y="643.5" width="2" height="24" fill="#fff" stroke="#000"/><path d="M560.5 636V637M560.5 667V670" stroke="#f00"/><rect x="559.5" y="637.5" width="2" height="29" fill="#ff8080" stroke="#f00"/><path d="M563.5 686V687M563.5 713V714" stroke="#f00"/><rect x="562.5" y="687.5" width="2" height="25" fill="#ff8080" stroke="#f00"/><path d="M565.5 694V704M565.5 712V713" stroke="#000"/><rect x="564.5" y="704.5" width="2" height="7" fill="#fff" stroke="#000"/><path d="M567.5 710V711M567.5 739V740" stroke="#f00"/><rect x="566.5" y="711.5" width="2" height="27" fill="#ff8080" stroke="#f00"/><path d="M569.5 747V755M569.5 757V773" stroke="#000"/><rect x="568" y="755" width="3" height="3" fill="#000"/><path d="M571.5 724V734M571.5 737V738" stroke="#000"/><rect x="570.5" y="734.5" width="2" height="2" fill="#fff" stroke="#000"/><path d="M573.5 725V726M573.5 731V732" stroke="#f00"/><rect x="572.5" y="726.5" width="2" height="4" fill="#ff8080" stroke="#f00"/><path d="M575.5 722V728M575.5 732V733" stroke="#f00"/><rect x="574.5" y="728.5" width="2" height="3" fill="#ff8080" stroke="#f00"/><path d="M577.5 730V731M577.5 742V743" stroke="#f00"/><rect x="576.5" y="731.5" width="2" height="10" fill="#ff8080" stroke="#f00"/><path d="M579.5 737V738M579.5 745V746" stroke="#000"/><rect x="578.5" y="738.5" width="2" height="6" fill="#fff" stroke="#000"/><path d="M581.5 739V740M581.5 747V748" stroke="#f00"/><rect x="580.5" y="740.5" width="2" height="6" fill="#ff8080" stroke="#f00"/><path d="M583.5 733V738M583.5 740V741" stroke="#f00"/><rect x="582" y="738" width="3" height="3" fill="#f00"/><path d="M585.5 742V743M585.5 745V748" stroke="#f00"/><rect x="584" y="743" width="3" height="3" fill="#f00"/><path d="M587.5 741V742M587.5 744V745" stroke="#f00"/><rect x="586" y="742" width="3" height="3" fill="#f00"/><path d="M589.5 757V761M589.5 762V763" stroke="#f00"/><rect x="588" y="761" width="3" height="2" fill="#f00"/><path d="M591.5 737V738M591.5 745V746" stroke="#000"/><rect x="590.5" y="738.5" width="2" height="6" fill="#fff" stroke="#000"/><path d="M593.5 699V720M593.5 725V726" stroke="#000"/><rect x="592.5" y="720.5" width="2" height="4" fill="#fff" stroke="#000"/><path d="M595.5 716V719M595.5 733V734" stroke="#f00"/><rect x="594.5" y="719.5" width="2" height="13" fill="#ff8080" stroke="#f00"/><path d="M597.5 722V723M597.5 732V736" stroke="#f00"/><rect x="596.5" y="723.5" width="2" height="8" fill="#ff8080" stroke="#f00"/><path d="M600.5 711V712M600.5 724V725" stroke="#000"/><rect x="599.5" y="712.5" width="2" height="11" fill="#fff" stroke="#000"/><path d="M602.5 702V706M602.5 712V713" stroke="#000"/><rect x="601.5" y="706.5" width="2" height="5" fill="#fff" stroke="#000"/><path d="M604.5 705V708M604.5 710V711" stroke="#f00"/><rect x="603" y="708" width="3" height="3" fill="#f00"/><path d="M606.5 710V711M606.5 726V727" stroke="#f00"/><rect x="605.5" y="711.5" width="2" height="14" fill="#ff8080" stroke="#f00"/><path d="M609.5 748V756M609.5 758V764" stroke="#000"/><rect x="608" y="756" width="3" height="3" fill="#000"/><path d="M611.5 744V745M611.5 758V763" stroke="#000"/><rect x="610.5" y="745.5" width="2" height="12" fill="#fff" stroke="#000"/><rect x="611.5" y="748.5" width="2" height="11" fill="#fff" stroke="#000"/><path d="M614.5 742V743M614.5 753V754" stroke="#f00"/><rect x="613.5" y="743.5" width="2" height="9" fill="#ff8080" stroke="#f00"/><path d="M616.5 748V749M616.5 753V754" stroke="#f00"/><rect x="615.5" y="749.5" width="2" height="3" fill="#ff8080" stroke="#f00"/><path d="M618.5 748V754M618.5 758V759" stroke="#000"/><rect x="617.5" y="754.5" width="2" height="3" fill="#fff" stroke="#000"/><path d="M620.5 747V754M620.5 755V756" stroke="#f00"/><rect x="619" y="754" width="3" height="2" fill="#f00"/><path d="M622.5 756V757M622.5 759V760" stroke="#000"/><rect x="621" y="757" width="3" height="3" fill="#000"/><path d="M624.5 757V758M624.5 759V760" stroke="#000"/><rect x="623" y="758" width="3" height="2" fill="#000"/><path d="M626.5 747V748M626.5 751V752" stroke="#000"/><rect x="625.5" y="748.5" width="2" height="2" fill="#fff" stroke="#000"/><path d="M628.5 748V749M628.5 752V753" stroke="#f00"/><rect x="627.5" y="749.5" width="2" height="2" fill="#ff8080" stroke="#f00"/><path d="M629.5 751V752M629.5 756V757" stroke="#f00"/><rect x="628.5" y="752.5" width="2" height="3" fill="#ff8080" stroke="#f00"/><path d="M631.5 756V757M631.5 760V761" stroke="#f00"/><rect x="630.5" y="757.5" width="2" height="2" fill="#ff8080" stroke="#f00"/><path d="M633.5 759V760M633.5 765V766" stroke="#f00"/><rect x="632.5" y="760.5" width="2" height="4" fill="#ff8080" stroke="#f00"/><path d="M635.5 758V759M635.5 763V764" stroke="#f00"/><rect x="634.5" y="759.5" width="2" height="3" fill="#ff8080" stroke="#f00"/><path d="M637.5 759V760M637.5 765V766" stroke="#000"/><rect x="636.5" y="760.5" width="2" height="4" fill="#fff" stroke="#000"/><path d="M639.5 756V758M639.5 762V763" stroke="#f00"/><rect x="638.5" y="758.5" width="2" height="3" fill="#ff8080" stroke="#f00"/><path d="M641.5 757V758M641.5 763V764" stroke="#000"/><rect x="640.5" y="758.5" width="2" height="4" fill="#fff" stroke="#000"/><path d="M643.5 754V755M643.5 758V759" stroke="#000"/><rect x="642.5" y="755.5" width="2" height="2" fill="#fff" stroke="#000"/><path d="M646.5 752V753M646.5 758V759" stroke="#f00"/><rect x="645.5" y="753.5" width="2" height="4" fill="#ff8080" stroke="#f00"/><path d="M648.5 761V763M648.5 765V766" stroke="#f00"/><rect x="647" y="763" width="3" height="3" fill="#f00"/><path d="M650.5 765V766M650.5 770V771" stroke="#f00"/><rect x="649.5" y="766.5" width="2" height="3" fill="#ff8080" stroke="#f00"/><path d="M652.5 768V769M652.5 773V774" stroke="#000"/><rect x="651.5" y="769.5" width="2" height="3" fill="#fff" stroke="#000"/><path d="M652.5 767V768M652.5 771V772" stroke="#000"/><rect x="651.5" y="768.5" width="2" height="2" fill="#fff" stroke="#000"/><path d="M654.5 764V765M654.5 768V769" stroke="#000"/><rect x="653.5" y="765.5" width="2" height="2" fill="#fff" stroke="#000"/><path d="M656.5 763V764M656.5 766V767" stroke="#000"/><rect x="655" y="764" width="3" height="3" fill="#000"/><path d="M658.5 755V756M658.5 760V761" stroke="#000"/><rect x="657.5" y="756.5" width="2" height="3" fill="#fff" stroke="#000"/><path d="M659.5 744V745M659.5 753V754" stroke="#000"/><rect x="658.5" y="745.5" width="2" height="7" fill="#fff" stroke="#000"/><path d="M660.5 749V750M660.5 754V755" stroke="#000"/><rect x="659.5" y="750.5" width="2" height="3" fill="#fff" stroke="#000"/><path d="M662.5 736V741M662.5 746V747" stroke="#f00"/><rect x="661.5" y="741.5" width="2" height="4" fill="#ff8080" stroke="#f00"/><path d="M663.5 749V750M663.5 754V755" stroke="#000"/><rect x="662.5" y="750.5" width="2" height="3" fill="#fff" stroke="#000"/><path d="M666.5 746V750M666.5 752V753" stroke="#f00"/><rect x="665" y="750" width="3" height="3" fill="#f00"/><path d="M668.5 748V750M668.5 753V754" stroke="#f00"/><rect x="667.5" y="750.5" width="2" height="2" fill="#ff8080" stroke="#f00"/><path d="M668.5 756V758M668.5 762V763" stroke="#f00"/><rect x="667.5" y="758.5" width="2" height="3" fill="#ff8080" stroke="#f00"/><path d="M671.5 748V749M671.5 760V761" stroke="#000"/><rect x="670.5" y="749.5" width="2" height="10" fill="#fff" stroke="#000"/><path d="M672.5 745V747" stroke="#000"/><rect x="671" y="744" width="3" height="2" fill="#000"/><path d="M674.5 737V741M674.5 742V743" stroke="#000"/><rect x="673" y="741" width="3" height="2" fill="#000"/><path d="M677.5 744V745M677.5 750V751" stroke="#000"/><rect x="676.5" y="745.5" width="2" height="4" fill="#fff" stroke="#000"/><path d="M678.5 743V744M678.5 750V751" stroke="#000"/><rect x="677.5" y="744.5" width="2" height="5" fill="#fff" stroke="#000"/><path d="M680.5 745V746M680.5 749V750" stroke="#f00"/><rect x="679.5" y="746.5" width="2" height="2" fill="#ff8080" stroke="#f00"/><path d="M682.5 744V745M682.5 746V747" stroke="#f00"/><rect x="681" y="745" width="3" height="2" fill="#f00"/><path d="M684.5 735V739M684.5 740V741" stroke="#000"/><rect x="683" y="739" width="3" height="2" fill="#000"/><path d="M686.5 738V739M686.5 745V746" stroke="#f00"/><rect x="685.5" y="739.5" width="2" height="5" fill="#ff8080" stroke="#f00"/><path d="M688.5 738V739M688.5 746V747" stroke="#000"/><rect x="687.5" y="739.5" width="2" height="6" fill="#fff" stroke="#000"/><path d="M690.5 735V736M690.5 739V740" stroke="#f00"/><rect x="689.5" y="736.5" width="2" height="2" fill="#ff8080" stroke="#f00"/><path d="M693.5 737V738M693.5 739V740" stroke="#000"/><rect x="692" y="738" width="3" height="2" fill="#000"/><path d="M694.5 725V726M694.5 732V733" stroke="#f00"/><rect x="693.5" y="726.5" width="2" height="5" fill="#ff8080" stroke="#f00"/><path d="M696.5 727V728M696.5 733V734" stroke="#000"/><rect x="695.5" y="728.5" width="2" height="4" fill="#fff" stroke="#000"/><path d="M698.5 726V728M698.5 737V738" stroke="#f00"/><rect x="697.5" y="728.5" width="2" height="8" fill="#ff8080" stroke="#f00"/><path d="M700.5 737V738M700.5 740V741" stroke="#f00"/><rect x="699" y="738" width="3" height="3" fill="#f00"/><path d="M702.5 749V751M702.5 758V759" stroke="#f00"/><rect x="701.5" y="751.5" width="2" height="6" fill="#ff8080" stroke="#f00"/><path d="M704.5 759V760M704.5 763V765" stroke="#f00"/><rect x="703.5" y="760.5" width="2" height="2" fill="#ff8080" stroke="#f00"/><path d="M706.5 757V758M706.5 762V763" stroke="#000"/><rect x="705.5" y="758.5" width="2" height="3" fill="#fff" stroke="#000"/><path d="M708.5 756V757M708.5 762V763" stroke="#000"/><rect x="707.5" y="757.5" width="2" height="4" fill="#fff" stroke="#000"/><path d="M711.5 753V758M711.5 765V766" stroke="#f00"/><rect x="710.5" y="758.5" width="2" height="6" fill="#ff8080" stroke="#f00"/><path d="M713.5 762V763M713.5 768V769" stroke="#000"/><rect x="712.5" y="763.5" width="2" height="4" fill="#fff" stroke="#000"/><path d="M715.5 759V760M715.5 765V766" stroke="#000"/><rect x="714.5" y="760.5" width="2" height="4" fill="#fff" stroke="#000"/><path d="M717.5 759V760M717.5 762V763" stroke="#f00"/><rect x="716" y="760" width="3" height="3" fill="#f00"/><path d="M720.5 759V760M720.5 764V765" stroke="#000"/><rect x="719.5" y="760.5" width="2" height="3" fill="#fff" stroke="#000"/><path d="M721.5 758V760M721.5 762V763" stroke="#f00"/><rect x="720" y="760" width="3" height="3" fill="#f00"/><path d="M723.5 748V750M723.5 752V753" stroke="#f00"/><rect x="722" y="750" width="3" height="3" fill="#f00"/><path d="M725.5 743V750M725.5 757V758" stroke="#f00"/><rect x="724.5" y="750.5" width="2" height="6" fill="#ff8080" stroke="#f00"/><path d="M727.5 755V756M727.5 761V762" stroke="#000"/><rect x="726.5" y="756.5" width="2" height="4" fill="#fff" stroke="#000"/><path d="M729.5 753V754M729.5 756V757" stroke="#f00"/><rect x="728" y="754" width="3" height="3" fill="#f00"/><path d="M731.5 748V750M731.5 751V752" stroke="#000"/><rect x="730" y="750" width="3" height="2" fill="#000"/><path d="M733.5 743V745M733.5 748V749" stroke="#000"/><rect x="732.5" y="745.5" width="2" height="2" fill="#fff" stroke="#000"/><path d="M735.5 746V750M735.5 757V758" stroke="#f00"/><rect x="734.5" y="750.5" width="2" height="6" fill="#ff8080" stroke="#f00"/><path d="M737.5 751V752M737.5 756V757" stroke="#000"/><rect x="736.5" y="752.5" width="2" height="3" fill="#fff" stroke="#000"/><path d="M739.5 754V755M739.5 757V758" stroke="#f00"/><rect x="738" y="755" width="3" height="3" fill="#f00"/><path d="M740.5 757V758M740.5 760V761" stroke="#f00"/><rect x="739" y="758" width="3" height="3" fill="#f00"/><path d="M742.5 762V763M742.5 767V768" stroke="#000"/><rect x="741.5" y="763.5" width="2" height="3" fill="#fff" stroke="#000"/><path d="M744.5 763V764M744.5 765V766" stroke="#f00"/><rect x="743" y="764" width="3" height="2" fill="#f00"/><path d="M746.5 760V761M746.5 764V765" stroke="#f00"/><rect x="745.5" y="761.5" width="2" height="2" fill="#ff8080" stroke="#f00"/><path d="M748.5 759V760M748.5 766V767" stroke="#000"/><rect x="747.5" y="760.5" width="2" height="5" fill="#fff" stroke="#000"/><path d="M750.5 756V757M750.5 763V764" stroke="#f00"/><rect x="749.5" y="757.5" width="2" height="5" fill="#ff8080" stroke="#f00"/><path d="M752.5 763V764M752.5 765V766" stroke="#000"/><rect x="751" y="764" width="3" height="2" fill="#000"/><path d="M754.5 766V767" stroke="#f00"/><rect x="753.5" y="760.5" width="2" height="5" fill="#ff8080" stroke="#f00"/><path d="M756.5 766V767M756.5 770V771" stroke="#000"/><rect x="755.5" y="767.5" width="2" height="2" fill="#fff" stroke="#000"/><path d="M758.5 766V767M758.5 768V769" stroke="#f00"/><rect x="757" y="767" width="3" height="2" fill="#f00"/><path d="M760.5 766V767M760.5 768V769" stroke="#f00"/><rect x="759" y="767" width="3" height="2" fill="#f00"/><path d="M762.5 769V770M762.5 771V772" stroke="#000"/><rect x="761" y="770" width="3" height="2" fill="#000"/><path d="M764.5 768V769M764.5 770V771" stroke="#000"/><rect x="763" y="769" width="3" height="2" fill="#000"/><path d="M766.5 767V768M766.5 769V770" stroke="#000"/><rect x="765" y="768" width="3" height="2" fill="#000"/><path d="M768.5 767V768M768.5 769V770" stroke="#f00"/><rect x="767" y="768" width="3" height="2" fill="#f00"/><path d="M770.5 768V769M770.5 770V771" stroke="#f00"/><rect x="769" y="769" width="3" height="2" fill="#f00"/><path d="M772.5 770V771M772.5 775V776" stroke="#f00"/><rect x="771.5" y="771.5" width="2" height="3" fill="#ff8080" stroke="#f00"/><path d="M774.5 778V779M774.5 781V782" stroke="#f00"/><rect x="773" y="779" width="3" height="3" fill="#f00"/><path d="M776.5 779V780M776.5 781V782" stroke="#f00"/><rect x="775" y="780" width="3" height="2" fill="#f00"/><path d="M778.5 784V785M778.5 790V791" stroke="#000"/><rect x="777.5" y="785.5" width="2" height="4" fill="#fff" stroke="#000"/><path d="M780.5 780V781M780.5 788V789" stroke="#f00"/><rect x="779.5" y="781.5" width="2" height="6" fill="#ff8080" stroke="#f00"/><path d="M781.5 785V786M781.5 787V788" stroke="#000"/><rect x="780" y="786" width="3" height="2" fill="#000"/><path d="M783.5 786V787M783.5 789V790" stroke="#f00"/><rect x="782" y="787" width="3" height="3" fill="#f00"/><path d="M785.5 789V790M785.5 791V792" stroke="#f00"/><rect x="784" y="790" width="3" height="2" fill="#f00"/><path d="M788.5 791V792M788.5 795V796" stroke="#f00"/><rect x="787.5" y="792.5" width="2" height="2" fill="#ff8080" stroke="#f00"/><path d="M790.5 793V794M790.5 796V797" stroke="#000"/><rect x="789" y="794" width="3" height="3" fill="#000"/><path d="M791.5 788V789M791.5 790V791" stroke="#000"/><rect x="790" y="789" width="3" height="2" fill="#000"/><path d="M793.5 774V775M793.5 789V790" stroke="#000"/><rect x="792.5" y="775.5" width="2" height="13" fill="#fff" stroke="#000"/><path d="M796.5 775V776M796.5 778V779" stroke="#000"/><rect x="795" y="776" width="3" height="3" fill="#000"/><path d="M798.5 774V776M798.5 777V778" stroke="#f00"/><rect x="797" y="776" width="3" height="2" fill="#f00"/><path d="M799.5 777V778M799.5 782V783" stroke="#000"/><rect x="798.5" y="778.5" width="2" height="3" fill="#fff" stroke="#000"/><path d="M801.5 774V775M801.5 778V779" stroke="#000"/><rect x="800.5" y="775.5" width="2" height="2" fill="#fff" stroke="#000"/><path d="M803.5 774V776M803.5 777V778" stroke="#f00"/><rect x="802" y="776" width="3" height="2" fill="#f00"/><path d="M805.5 777V778M805.5 782V783" stroke="#f00"/><rect x="804.5" y="778.5" width="2" height="3" fill="#ff8080" stroke="#f00"/><path d="M808.5 778V779M808.5 780V781" stroke="#f00"/><rect x="807" y="779" width="3" height="2" fill="#f00"/><path d="M809.5 770V771M809.5 777V778" stroke="#000"/><rect x="808.5" y="771.5" width="2" height="5" fill="#fff" stroke="#000"/><path d="M812.5 773V774M812.5 776V777" stroke="#000"/><rect x="811" y="774" width="3" height="3" fill="#000"/><path d="M812.5 775V782M812.5 788V789" stroke="#f00"/><rect x="811.5" y="782.5" width="2" height="5" fill="#ff8080" stroke="#f00"/><path d="M814.5 787V788M814.5 797V798" stroke="#f00"/><rect x="813.5" y="788.5" width="2" height="8" fill="#ff8080" stroke="#f00"/><path d="M816.5 786V788M816.5 795V796" stroke="#000"/><rect x="815.5" y="788.5" width="2" height="6" fill="#fff" stroke="#000"/><path d="M819.5 789V790M819.5 793V794" stroke="#f00"/><rect x="818.5" y="790.5" width="2" height="2" fill="#ff8080" stroke="#f00"/><path d="M821.5 795V796M821.5 801V802" stroke="#000"/><rect x="820.5" y="796.5" width="2" height="4" fill="#fff" stroke="#000"/><path d="M822.5 793V794M822.5 797V798" stroke="#000"/><rect x="821.5" y="794.5" width="2" height="2" fill="#fff" stroke="#000"/><path d="M824.5 794V795M824.5 799V800" stroke="#f00"/><rect x="823.5" y="795.5" width="2" height="3" fill="#ff8080" stroke="#f00"/><path d="M826.5 798V799M826.5 800V801" stroke="#f00"/><rect x="825" y="799" width="3" height="2" fill="#f00"/><path d="M828.5 798V799M828.5 800V801" stroke="#f00"/><rect x="827" y="799" width="3" height="2" fill="#f00"/><path d="M830.5 804V805M830.5 807V808" stroke="#f00"/><rect x="829" y="805" width="3" height="3" fill="#f00"/><path d="M832.5 802V803M832.5 806V807" stroke="#000"/><rect x="831.5" y="803.5" width="2" height="2" fill="#fff" stroke="#000"/><path d="M834.5 801V802M834.5 803V804" stroke="#000"/><rect x="833" y="802" width="3" height="2" fill="#000"/><path d="M836.5 801V802M836.5 803V804" stroke="#f00"/><rect x="835" y="802" width="3" height="2" fill="#f00"/><path d="M839.5 802V803M839.5 805V806" stroke="#000"/><rect x="838" y="803" width="3" height="3" fill="#000"/><path d="M840.5 804V805M840.5 806V807" stroke="#000"/><rect x="839" y="805" width="3" height="2" fill="#000"/><path d="M843.5 803V804M843.5 805V806" stroke="#f00"/><rect x="842" y="804" width="3" height="2" fill="#f00"/><path d="M844.5 801V802M844.5 803V804" stroke="#000"/><rect x="843" y="802" width="3" height="2" fill="#000"/><path d="M847.5 801V802M847.5 803V804" stroke="#f00"/><rect x="846" y="802" width="3" height="2" fill="#f00"/><path d="M849.5 798V799M849.5 801V802" stroke="#f00"/><rect x="848" y="799" width="3" height="3" fill="#f00"/><path d="M852.5 801V802M852.5 803V804" stroke="#f00"/><rect x="851" y="802" width="3" height="2" fill="#f00"/><path d="M854.5 802V803M854.5 805V806" stroke="#f00"/><rect x="853" y="803" width="3" height="3" fill="#f00"/><path d="M856.5 802V803M856.5 804V805" stroke="#000"/><rect x="855" y="803" width="3" height="2" fill="#000"/><path d="M857.5 802V803M857.5 805V806" stroke="#f00"/><rect x="856" y="803" width="3" height="3" fill="#f00"/><path d="M859.5 805V806M859.5 807V808" stroke="#000"/><rect x="858" y="806" width="3" height="2" fill="#000"/><path d="M861.5 802V803M861.5 806V807" stroke="#000"/><rect x="860.5" y="803.5" width="2" height="2" fill="#fff" stroke="#000"/><path d="M864.5 802V803M864.5 806V807" stroke="#f00"/><rect x="863.5" y="803.5" width="2" height="2" fill="#ff8080" stroke="#f00"/><path d="M865.5 804V805M865.5 806V807" stroke="#f00"/><rect x="864" y="805" width="3" height="2" fill="#f00"/><path d="M867.5 806V807M867.5 811V812" stroke="#f00"/><rect x="866.5" y="807.5" width="2" height="3" fill="#ff8080" stroke="#f00"/><path d="M869.5 816V817M869.5 819V820" stroke="#f00"/><rect x="868" y="817" width="3" height="3" fill="#f00"/><path d="M872.5 817V818M872.5 819V820" stroke="#000"/><rect x="871" y="818" width="3" height="2" fill="#000"/><path d="M874.5 819V820M874.5 822V823" stroke="#f00"/><rect x="873" y="820" width="3" height="3" fill="#f00"/><path d="M876.5 819V820M876.5 821V822" stroke="#000"/><rect x="875" y="820" width="3" height="2" fill="#000"/><path d="M878.5 817V818M878.5 819V820" stroke="#f00"/><rect x="877" y="818" width="3" height="2" fill="#f00"/><path d="M880.5 816V817M880.5 818V819" stroke="#f00"/><rect x="879" y="817" width="3" height="2" fill="#f00"/><path d="M881.5 819V820M881.5 822V823" stroke="#f00"/><rect x="880" y="820" width="3" height="3" fill="#f00"/><path d="M884.5 821V822M884.5 824V825" stroke="#f00"/><rect x="883" y="822" width="3" height="3" fill="#f00"/><path d="M884.5 821V822M884.5 824V825" stroke="#000"/><rect x="883" y="822" width="3" height="3" fill="#000"/><path d="M886.5 819V820M886.5 822V823" stroke="#f00"/><rect x="885" y="820" width="3" height="3" fill="#f00"/><path d="M888.5 816V817M888.5 818V819" stroke="#000"/><rect x="887" y="817" width="3" height="2" fill="#000"/><path d="M890.5 814V815M890.5 817V818" stroke="#000"/><rect x="889" y="815" width="3" height="3" fill="#000"/><path d="M892.5 813V814M892.5 816V817" stroke="#000"/><rect x="891" y="814" width="3" height="3" fill="#000"/><path d="M894.5 797V798M894.5 804V805" stroke="#f00"/><rect x="893.5" y="798.5" width="2" height="5" fill="#ff8080" stroke="#f00"/><path d="M897.5 800V801M897.5 803V804" stroke="#000"/><rect x="896" y="801" width="3" height="3" fill="#000"/><path d="M899.5 802V803M899.5 804V805" stroke="#000"/><rect x="898" y="803" width="3" height="2" fill="#000"/><path d="M900.5 797V798M900.5 800V801" stroke="#000"/><rect x="899" y="798" width="3" height="3" fill="#000"/><path d="M902.5 795V796M902.5 798V799" stroke="#000"/><rect x="901" y="796" width="3" height="3" fill="#000"/><path d="M905.5 789V790M905.5 792V793" stroke="#f00"/><rect x="904" y="790" width="3" height="3" fill="#f00"/><path d="M906.5 791V792M906.5 793V794" stroke="#000"/><rect x="905" y="792" width="3" height="2" fill="#000"/><path d="M908.5 791V792M908.5 798V799" stroke="#f00"/><rect x="907.5" y="792.5" width="2" height="5" fill="#ff8080" stroke="#f00"/><path d="M911.5 792V793M911.5 798V799" stroke="#000"/><rect x="910.5" y="793.5" width="2" height="4" fill="#fff" stroke="#000"/><path d="M913.5 789V790M913.5 796V797" stroke="#000"/><rect x="912.5" y="790.5" width="2" height="5" fill="#fff" stroke="#000"/><path d="M914.5 785V786M914.5 787V788" stroke="#000"/><rect x="913" y="786" width="3" height="2" fill="#000"/><path d="M916.5 783V784M916.5 785V786" stroke="#f00"/><rect x="915" y="784" width="3" height="2" fill="#f00"/><path d="M919.5 787V788M919.5 791V792" stroke="#000"/><rect x="918.5" y="788.5" width="2" height="2" fill="#fff" stroke="#000"/><path d="M920.5 783V784M920.5 785V786" stroke="#000"/><rect x="919" y="784" width="3" height="2" fill="#000"/><path d="M922.5 781V782M922.5 787V788" stroke="#000"/><rect x="921.5" y="782.5" width="2" height="4" fill="#fff" stroke="#000"/><path d="M923.5 763V780M923.5 788V789" stroke="#f00"/><rect x="922.5" y="780.5" width="2" height="7" fill="#ff8080" stroke="#f00"/><path d="M925.5 779V780M925.5 787V788" stroke="#000"/><rect x="924.5" y="780.5" width="2" height="6" fill="#fff" stroke="#000"/><path d="M927.5 780V781M927.5 785V786" stroke="#000"/><rect x="926.5" y="781.5" width="2" height="3" fill="#fff" stroke="#000"/><path d="M929.5 775V776M929.5 778V779" stroke="#f00"/><rect x="928" y="776" width="3" height="3" fill="#f00"/><path d="M932.5 776V777M932.5 779V780" stroke="#000"/><rect x="931" y="777" width="3" height="3" fill="#000"/><path d="M933.5 779V780M933.5 781V782" stroke="#f00"/><rect x="932" y="780" width="3" height="2" fill="#f00"/><path d="M935.5 779V780M935.5 782V783" stroke="#000"/><rect x="934" y="780" width="3" height="3" fill="#000"/><path d="M938.5 777V778M938.5 780V781" stroke="#f00"/><rect x="937" y="778" width="3" height="3" fill="#f00"/><path d="M940.5 781V783M940.5 787V788" stroke="#f00"/><rect x="939.5" y="783.5" width="2" height="3" fill="#ff8080" stroke="#f00"/><path d="M941.5 787V788M941.5 789V790" stroke="#000"/><rect x="940" y="788" width="3" height="2" fill="#000"/><path d="M943.5 787V788M943.5 792V793" stroke="#f00"/><rect x="942.5" y="788.5" width="2" height="3" fill="#ff8080" stroke="#f00"/><path d="M945.5 780V781M945.5 790V791" stroke="#000"/><rect x="944.5" y="781.5" width="2" height="8" fill="#fff" stroke="#000"/><path d="M948.5 777V778M948.5 782V783" stroke="#000"/><rect x="947.5" y="778.5" width="2" height="3" fill="#fff" stroke="#000"/><path d="M950.5 775V776M950.5 778V779" stroke="#f00"/><rect x="949" y="776" width="3" height="3" fill="#f00"/><path d="M952.5 775V776M952.5 779V780" stroke="#000"/><rect x="951.5" y="776.5" width="2" height="2" fill="#fff" stroke="#000"/><path d="M953.5 775V776M953.5 777V778" stroke="#000"/><rect x="952" y="776" width="3" height="2" fill="#000"/><path d="M955.5 776V777M955.5 779V780" stroke="#f00"/><rect x="954" y="777" width="3" height="3" fill="#f00"/><path d="M956.5 781V782M956.5 783V784" stroke="#f00"/><rect x="955" y="782" width="3" height="2" fill="#f00"/><path d="M959.5 779V780M959.5 782V783" stroke="#f00"/><rect x="958" y="780" width="3" height="3" fill="#f00"/><path d="M960.5 782V783M960.5 788V789" stroke="#f00"/><rect x="959.5" y="783.5" width="2" height="4" fill="#ff8080" stroke="#f00"/><path d="M962.5 787V788M962.5 790V791" stroke="#f00"/><rect x="961" y="788" width="3" height="3" fill="#f00"/><path d="M964.5 788V789M964.5 791V792" stroke="#f00"/><rect x="963" y="789" width="3" height="3" fill="#f00"/><path d="M966.5 788V789M966.5 791V792" stroke="#f00"/><rect x="965" y="789" width="3" height="3" fill="#f00"/><path d="M968.5 790V791M968.5 792V793" stroke="#f00"/><rect x="967" y="791" width="3" height="2" fill="#f00"/><path d="M970.5 795V796M970.5 798V799" stroke="#000"/><rect x="969" y="796" width="3" height="3" fill="#000"/><path d="M972.5 796V797M972.5 798V799" stroke="#f00"/><rect x="971" y="797" width="3" height="2" fill="#f00"/><path d="M974.5 796V797M974.5 799V800" stroke="#f00"/><rect x="973" y="797" width="3" height="3" fill="#f00"/><path d="M976.5 798V799M976.5 801V802" stroke="#f00"/><rect x="975" y="799" width="3" height="3" fill="#f00"/><path d="M978.5 801V802M978.5 806V807" stroke="#f00"/><rect x="977.5" y="802.5" width="2" height="3" fill="#ff8080" stroke="#f00"/><path d="M981.5 803V804M981.5 805V807" stroke="#000"/><rect x="980" y="804" width="3" height="2" fill="#000"/><path d="M982.5 793V794M982.5 795V797" stroke="#000"/><rect x="981" y="794" width="3" height="2" fill="#000"/><path d="M985.5 787V793M985.5 794V795" stroke="#000"/><rect x="984" y="793" width="3" height="2" fill="#000"/><path d="M987.5 793V794M987.5 800V801" stroke="#f00"/><rect x="986.5" y="794.5" width="2" height="5" fill="#ff8080" stroke="#f00"/><path d="M988.5 796V797M988.5 800V801" stroke="#000"/><rect x="987.5" y="797.5" width="2" height="2" fill="#fff" stroke="#000"/><path d="M991.5 793V794M991.5 798V799" stroke="#000"/><rect x="990.5" y="794.5" width="2" height="3" fill="#fff" stroke="#000"/><path d="M992.5 795V796M992.5 797V798" stroke="#f00"/><rect x="991" y="796" width="3" height="2" fill="#f00"/><path d="M993.5 786V787M993.5 796V797" stroke="#000"/><rect x="992.5" y="787.5" width="2" height="8" fill="#fff" stroke="#000"/><path d="M996.5 782V784M996.5 792V793" stroke="#f00"/><rect x="995.5" y="784.5" width="2" height="7" fill="#ff8080" stroke="#f00"/><path d="M998.5 783V784M998.5 790V791" stroke="#000"/><rect x="997.5" y="784.5" width="2" height="5" fill="#fff" stroke="#000"/><path d="M1000.5 787V788M1000.5 789V790" stroke="#f00"/><rect x="999" y="788" width="3" height="2" fill="#f00"/><path d="M1002.5 790V791M1002.5 795V796" stroke="#f00"/><rect x="1001.5" y="791.5" width="2" height="3" fill="#ff8080" stroke="#f00"/><path d="M1004.5 788V789M1004.5 795V796" stroke="#000"/><rect x="1003.5" y="789.5" width="2" height="5" fill="#fff" stroke="#000"/><path d="M1005.5 781V782M1005.5 784V785" stroke="#000"/><rect x="1004" y="782" width="3" height="3" fill="#000"/><path d="M1007.5 783V784M1007.5 785V786" stroke="#f00"/><rect x="1006" y="784" width="3" height="2" fill="#f00"/><path d="M1010.5 776V778M1010.5 784V785" stroke="#000"/><rect x="1009.5" y="778.5" width="2" height="5" fill="#fff" stroke="#000"/><path d="M1012.5 778V779M1012.5 785V786" stroke="#000"/><rect x="1011.5" y="779.5" width="2" height="5" fill="#fff" stroke="#000"/><path d="M1014.5 778V779M1014.5 781V782" stroke="#000"/><rect x="1013" y="779" width="3" height="3" fill="#000"/><path d="M1016.5 778V779M1016.5 780V781" stroke="#f00"/><rect x="1015" y="779" width="3" height="2" fill="#f00"/><path d="M1018.5 780V781M1018.5 783V784" stroke="#f00"/><rect x="1017" y="781" width="3" height="3" fill="#f00"/><path d="M1019.5 776V777M1019.5 778V779" stroke="#000"/><rect x="1018" y="777" width="3" height="2" fill="#000"/><path d="M1022.5 777V778M1022.5 781V782" stroke="#000"/><rect x="1021.5" y="778.5" width="2" height="2" fill="#fff" stroke="#000"/><path d="M1023.5 770V771M1023.5 776V777" stroke="#000"/><rect x="1022.5" y="771.5" width="2" height="4" fill="#fff" stroke="#000"/><path d="M1026.5 765V766M1026.5 769V770" stroke="#f00"/><rect x="1025.5" y="766.5" width="2" height="2" fill="#ff8080" stroke="#f00"/><path d="M1028.5 765V766M1028.5 768V769" stroke="#000"/><rect x="1027" y="766" width="3" height="3" fill="#000"/><path d="M1030.5 767V768M1030.5 773V774" stroke="#f00"/><rect x="1029.5" y="768.5" width="2" height="4" fill="#ff8080" stroke="#f00"/><path d="M1032.5 772V773M1032.5 779V780" stroke="#f00"/><rect x="1031.5" y="773.5" width="2" height="5" fill="#ff8080" stroke="#f00"/><path d="M1034.5 777V778M1034.5 782V783" stroke="#f00"/><rect x="1033.5" y="778.5" width="2" height="3" fill="#ff8080" stroke="#f00"/><path d="M1036.5 780V781M1036.5 784V785" stroke="#f00"/><rect x="1035.5" y="781.5" width="2" height="2" fill="#ff8080" stroke="#f00"/><path d="M1039.5 782V783M1039.5 784V785" stroke="#000"/><rect x="1038" y="783" width="3" height="2" fill="#000"/><path d="M1040.5 773V774M1040.5 779V780" stroke="#000"/><rect x="1039.5" y="774.5" width="2" height="4" fill="#fff" stroke="#000"/><path d="M1043.5 773V774M1043.5 776V777" stroke="#000"/><rect x="1042" y="774" width="3" height="3" fill="#000"/><path d="M1045.5 775V776M1045.5 777V778" stroke="#f00"/><rect x="1044" y="776" width="3" height="2" fill="#f00"/><path d="M1046.5 778V779M1046.5 782V783" stroke="#000"/><rect x="1045.5" y="779.5" width="2" height="2" fill="#fff" stroke="#000"/><path d="M1048.5 781V782M1048.5 783V784" stroke="#f00"/><rect x="1047" y="782" width="3" height="2" fill="#f00"/><path d="M1050.5 779V780M1050.5 782V783" stroke="#f00"/><rect x="1049" y="780" width="3" height="3" fill="#f00"/><path d="M1053.5 779V780M1053.5 781V782" stroke="#000"/><rect x="1052" y="780" width="3" height="2" fill="#000"/><path d="M1055.5 785V786M1055.5 789V790" stroke="#f00"/><rect x="1054.5" y="786.5" width="2" height="2" fill="#ff8080" stroke="#f00"/><path d="M1056.5 786V787M1056.5 788V789" stroke="#000"/><rect x="1055" y="787" width="3" height="2" fill="#000"/><path d="M1058.5 787V788M1058.5 789V790" stroke="#000"/><rect x="1057" y="788" width="3" height="2" fill="#000"/><path d="M1061.5 787V788M1061.5 791V792" stroke="#f00"/><rect x="1060.5" y="788.5" width="2" height="2" fill="#ff8080" stroke="#f00"/><path d="M1063.5 785V786M1063.5 787V788" stroke="#f00"/><rect x="1062" y="786" width="3" height="2" fill="#f00"/><path d="M1065.5 785V786M1065.5 788V789" stroke="#000"/><rect x="1064" y="786" width="3" height="3" fill="#000"/><path d="M1067.5 783V784M1067.5 787V788" stroke="#000"/><rect x="1066.5" y="784.5" width="2" height="2" fill="#fff" stroke="#000"/><path d="M1070.5 783V784M1070.5 787V788" stroke="#f00"/><rect x="1069.5" y="784.5" width="2" height="2" fill="#ff8080" stroke="#f00"/><path d="M1072.5 786V787M1072.5 788V789" stroke="#f00"/><rect x="1071" y="787" width="3" height="2" fill="#f00"/><path d="M1074.5 786V787M1074.5 789V790" stroke="#000"/><rect x="1073" y="787" width="3" height="3" fill="#000"/><path d="M1076.5 785V786M1076.5 787V788" stroke="#f00"/><rect x="1075" y="786" width="3" height="2" fill="#f00"/><path d="M1077.5 787V788M1077.5 789V790" stroke="#f00"/><rect x="1076" y="788" width="3" height="2" fill="#f00"/><path d="M1080.5 789V790M1080.5 791V792" stroke="#f00"/><rect x="1079" y="790" width="3" height="2" fill="#f00"/><path d="M1082.5 787V788M1082.5 790V791" stroke="#000"/><rect x="1081" y="788" width="3" height="3" fill="#000"/><path d="M1084.5 782V783M1084.5 784V785" stroke="#f00"/><rect x="1083" y="783" width="3" height="2" fill="#f00"/><path d="M1086.5 783V784M1086.5 785V786" stroke="#f00"/><rect x="1085" y="784" width="3" height="2" fill="#f00"/><path d="M1088.5 783V784M1088.5 786V787" stroke="#f00"/><rect x="1087" y="784" width="3" height="3" fill="#f00"/><path d="M1090.5 786V787M1090.5 788V789" stroke="#000"/><rect x="1089" y="787" width="3" height="2" fill="#000"/><path d="M1092.5 784V785M1092.5 787V788" stroke="#000"/><rect x="1091" y="785" width="3" height="3" fill="#000"/><path d="M1094.5 784V785M1094.5 793V794" stroke="#f00"/><rect x="1093.5" y="785.5" width="2" height="7" fill="#ff8080" stroke="#f00"/><path d="M1096.5 791V792M1096.5 794V795" stroke="#000"/><rect x="1095" y="792" width="3" height="3" fill="#000"/><path d="M1097.5 793V794M1097.5 800V801" stroke="#f00"/><rect x="1096.5" y="794.5" width="2" height="5" fill="#ff8080" stroke="#f00"/><path d="M1100.5 800V801M1100.5 807V808" stroke="#f00"/><rect x="1099.5" y="801.5" width="2" height="5" fill="#ff8080" stroke="#f00"/><path d="M1102.5 811V814M1102.5 816V817" stroke="#000"/><rect x="1101" y="814" width="3" height="3" fill="#000"/><path d="M1105.5 811V813M1105.5 814V815" stroke="#f00"/><rect x="1104" y="813" width="3" height="2" fill="#f00"/><path d="M1107.5 813V814M1107.5 815V816" stroke="#f00"/><rect x="1106" y="814" width="3" height="2" fill="#f00"/><path d="M1109.5 817V818M1109.5 819V820" stroke="#f00"/><rect x="1108" y="818" width="3" height="2" fill="#f00"/><path d="M1110.5 817V818M1110.5 819V820" stroke="#000"/><rect x="1109" y="818" width="3" height="2" fill="#000"/><path d="M1113.5 817V818M1113.5 819V820" stroke="#f00"/><rect x="1112" y="818" width="3" height="2" fill="#f00"/><path d="M1114.5 816V817M1114.5 819V820" stroke="#000"/><rect x="1113" y="817" width="3" height="3" fill="#000"/><path d="M1116.5 811V812M1116.5 813V814" stroke="#000"/><rect x="1115" y="812" width="3" height="2" fill="#000"/><path d="M1119.5 806V807M1119.5 809V810" stroke="#f00"/><rect x="1118" y="807" width="3" height="3" fill="#f00"/><path d="M1121.5 806V807M1121.5 809V810" stroke="#000"/><rect x="1120" y="807" width="3" height="3" fill="#000"/><path d="M1123.5 809V810M1123.5 812V813" stroke="#f00"/><rect x="1122" y="810" width="3" height="3" fill="#f00"/><path d="M1125.5 810V811M1125.5 812V813" stroke="#000"/><rect x="1124" y="811" width="3" height="2" fill="#000"/><path d="M1127.5 811V812M1127.5 817V818" stroke="#f00"/><rect x="1126.5" y="812.5" width="2" height="4" fill="#ff8080" stroke="#f00"/><path d="M1129.5 814V815M1129.5 816V817" stroke="#000"/><rect x="1128" y="815" width="3" height="2" fill="#000"/><path d="M1130.5 806V807M1130.5 813V814" stroke="#000"/><rect x="1129.5" y="807.5" width="2" height="5" fill="#fff" stroke="#000"/><path d="M1133.5 806V807M1133.5 809V810" stroke="#f00"/><rect x="1132" y="807" width="3" height="3" fill="#f00"/><path d="M1135.5 808V809M1135.5 811V812" stroke="#f00"/><rect x="1134" y="809" width="3" height="3" fill="#f00"/><path d="M1138.5 809V810M1138.5 812V813" stroke="#000"/><rect x="1137" y="810" width="3" height="3" fill="#000"/><path d="M1140.5 810V811M1140.5 812V813" stroke="#000"/><rect x="1139" y="811" width="3" height="2" fill="#000"/><path d="M1142.5 808V809M1142.5 811V812" stroke="#000"/><rect x="1141" y="809" width="3" height="3" fill="#000"/><path d="M1144.5 808V809M1144.5 810V811" stroke="#f00"/><rect x="1143" y="809" width="3" height="2" fill="#f00"/><path d="M1146.5 808V809M1146.5 811V812" stroke="#f00"/><rect x="1145" y="809" width="3" height="3" fill="#f00"/><path d="M1147.5 794V795M1147.5 811V812" stroke="#000"/><rect x="1146.5" y="795.5" width="2" height="15" fill="#fff" stroke="#000"/><path d="M1149.5 788V789M1149.5 801V802" stroke="#f00"/><rect x="1148.5" y="789.5" width="2" height="11" fill="#ff8080" stroke="#f00"/><path d="M1152.5 801V802M1152.5 804V805" stroke="#f00"/><rect x="1151" y="802" width="3" height="3" fill="#f00"/><path d="M1154.5 803V804M1154.5 805V806" stroke="#f00"/><rect x="1153" y="804" width="3" height="2" fill="#f00"/><path d="M1155.5 798V799M1155.5 802V803" stroke="#000"/><rect x="1154.5" y="799.5" width="2" height="2" fill="#fff" stroke="#000"/><path d="M1157.5 797V798M1157.5 802V803" stroke="#f00"/><rect x="1156.5" y="798.5" width="2" height="3" fill="#ff8080" stroke="#f00"/><path d="M1160.5 801V802M1160.5 804V805" stroke="#f00"/><rect x="1159" y="802" width="3" height="3" fill="#f00"/><path d="M1162.5 802V803M1162.5 805V806" stroke="#f00"/><rect x="1161" y="803" width="3" height="3" fill="#f00"/><path d="M1164.5 804V805M1164.5 806V807" stroke="#000"/><rect x="1163" y="805" width="3" height="2" fill="#000"/><path d="M1166.5 804V805M1166.5 806V807" stroke="#000"/><rect x="1165" y="805" width="3" height="2" fill="#000"/><path d="M1168.5 803V804M1168.5 806V807" stroke="#f00"/><rect x="1167" y="804" width="3" height="3" fill="#f00"/><path d="M1170.5 802V803M1170.5 804V805" stroke="#f00"/><rect x="1169" y="803" width="3" height="2" fill="#f00"/><path d="M1172.5 804V805M1172.5 806V807" stroke="#000"/><rect x="1171" y="805" width="3" height="2" fill="#000"/><path d="M1174.5 804V805M1174.5 807V808" stroke="#f00"/><rect x="1173" y="805" width="3" height="3" fill="#f00"/><path d="M1176.5 806V807M1176.5 808V809" stroke="#f00"/><rect x="1175" y="807" width="3" height="2" fill="#f00"/><path d="M1178.5 807V808M1178.5 809V810" stroke="#f00"/><rect x="1177" y="808" width="3" height="2" fill="#f00"/><path d="M1180.5 807V808M1180.5 810V811" stroke="#f00"/><rect x="1179" y="808" width="3" height="3" fill="#f00"/><path d="M1183.5 806V807M1183.5 809V810" stroke="#000"/><rect x="1182" y="807" width="3" height="3" fill="#000"/><path d="M1185.5 804V805M1185.5 806V807" stroke="#000"/><rect x="1184" y="805" width="3" height="2" fill="#000"/><path d="M1186.5 806V807M1186.5 808V809" stroke="#f00"/><rect x="1185" y="807" width="3" height="2" fill="#f00"/><path d="M1188.5 807V808M1188.5 809V810" stroke="#f00"/><rect x="1187" y="808" width="3" height="2" fill="#f00"/><path d="M1190.5 808V809M1190.5 810V811" stroke="#f00"/><rect x="1189" y="809" width="3" height="2" fill="#f00"/><path d="M1192.5 810V811M1192.5 812V813" stroke="#f00"/><rect x="1191" y="811" width="3" height="2" fill="#f00"/><path d="M1194.5 812V813M1194.5 814V815" stroke="#f00"/><rect x="1193" y="813" width="3" height="2" fill="#f00"/><path d="M1197.5 813V814M1197.5 815V816" stroke="#f00"/><rect x="1196" y="814" width="3" height="2" fill="#f00"/><path d="M1198.5 816V817M1198.5 819V820" stroke="#000"/><rect x="1197" y="817" width="3" height="3" fill="#000"/><path d="M1200.5 815V816M1200.5 819V820" stroke="#f00"/><rect x="1199.5" y="816.5" width="2" height="2" fill="#ff8080" stroke="#f00"/><path d="M1202.5 817V818M1202.5 820V821" stroke="#f00"/><rect x="1201" y="818" width="3" height="3" fill="#f00"/><path d="M1205.5 815V816M1205.5 817V818" stroke="#f00"/><rect x="1204" y="816" width="3" height="2" fill="#f00"/><path d="M1206.5 815V816M1206.5 818V819" stroke="#f00"/><rect x="1205" y="816" width="3" height="3" fill="#f00"/><path d="M1208.5 816V817M1208.5 818V819" stroke="#f00"/><rect x="1207" y="817" width="3" height="2" fill="#f00"/><path d="M1210.5 815V816M1210.5 818V819" stroke="#000"/><rect x="1209" y="816" width="3" height="3" fill="#000"/><path d="M1212.5 813V814M1212.5 816V817" stroke="#000"/><rect x="1211" y="814" width="3" height="3" fill="#000"/><path d="M1213.5 815V816M1213.5 817V818" stroke="#f00"/><rect x="1212" y="816" width="3" height="2" fill="#f00"/><path d="M1215.5 816V817M1215.5 820V821" stroke="#f00"/><rect x="1214.5" y="817.5" width="2" height="2" fill="#ff8080" stroke="#f00"/><path d="M1218.5 818V819M1218.5 820V821" stroke="#f00"/><rect x="1217" y="819" width="3" height="2" fill="#f00"/><path d="M1219.5 818V819M1219.5 820V821" stroke="#f00"/><rect x="1218" y="819" width="3" height="2" fill="#f00"/><path d="M1222.5 819V820M1222.5 821V822" stroke="#000"/><rect x="1221" y="820" width="3" height="2" fill="#000"/><path d="M1224.5 818V819M1224.5 820V821" stroke="#f00"/><rect x="1223" y="819" width="3" height="2" fill="#f00"/><path d="M1226.5 818V819M1226.5 820V821" stroke="#f00"/><rect x="1225" y="819" width="3" height="2" fill="#f00"/><path d="M1228.5 818V819M1228.5 821V822" stroke="#f00"/><rect x="1227" y="819" width="3" height="3" fill="#f00"/><path d="M1230.5 821V822M1230.5 825V826" stroke="#f00"/><rect x="1229.5" y="822.5" width="2" height="2" fill="#ff8080" stroke="#f00"/><path d="M1232.5 821V822M1232.5 823V824" stroke="#000"/><rect x="1231" y="822" width="3" height="2" fill="#000"/><path d="M1234.5 820V821M1234.5 823V824" stroke="#000"/><rect x="1233" y="821" width="3" height="3" fill="#000"/><path d="M1236.5 821V822M1236.5 823V824" stroke="#000"/><rect x="1235" y="822" width="3" height="2" fill="#000"/><path d="M1238.5 820V821M1238.5 823V824" stroke="#f00"/><rect x="1237" y="821" width="3" height="3" fill="#f00"/><path d="M1240.5 820V821M1240.5 822V823" stroke="#000"/><rect x="1239" y="821" width="3" height="2" fill="#000"/><path d="M1241.5 818V819M1241.5 820V821" stroke="#000"/><rect x="1240" y="819" width="3" height="2" fill="#000"/><path d="M1243.5 819V820M1243.5 821V822" stroke="#f00"/><rect x="1242" y="820" width="3" height="2" fill="#f00"/><path d="M1245.5 820V821M1245.5 823V824" stroke="#f00"/><rect x="1244" y="821" width="3" height="3" fill="#f00"/><path d="M1247.5 821V822M1247.5 823V824" stroke="#f00"/><rect x="1246" y="822" width="3" height="2" fill="#f00"/><path d="M1249.5 821V822M1249.5 823V824" stroke="#f00"/><rect x="1248" y="822" width="3" height="2" fill="#f00"/><path d="M1251.5 821V822M1251.5 823V824" stroke="#f00"/><rect x="1250" y="822" width="3" height="2" fill="#f00"/><path d="M1253.5 820V821M1253.5 823V824" stroke="#f00"/><rect x="1252" y="821" width="3" height="3" fill="#f00"/><path d="M1255.5 820V821M1255.5 822V823" stroke="#000"/><rect x="1254" y="821" width="3" height="2" fill="#000"/><path d="M1257.5 820V821M1257.5 822V823" stroke="#f00"/><rect x="1256" y="821" width="3" height="2" fill="#f00"/><path d="M1258.5 815V817M1258.5 818V819" stroke="#f00"/><rect x="1257" y="817" width="3" height="2" fill="#f00"/><path d="M1260.5 816V817M1260.5 819V820" stroke="#f00"/><rect x="1259" y="817" width="3" height="3" fill="#f00"/><path d="M1263.5 817V818M1263.5 819V820" stroke="#000"/><rect x="1262" y="818" width="3" height="2" fill="#000"/><path d="M1265.5 816V817M1265.5 818V819" stroke="#000"/><rect x="1264" y="817" width="3" height="2" fill="#000"/><path d="M1266.5 815V816M1266.5 817V818" stroke="#000"/><rect x="1265" y="816" width="3" height="2" fill="#000"/><path d="M1268.5 818V819M1268.5 820V821" stroke="#f00"/><rect x="1267" y="819" width="3" height="2" fill="#f00"/><path d="M1270.5 819V820M1270.5 821V822" stroke="#f00"/><rect x="1269" y="820" width="3" height="2" fill="#f00"/><path d="M1272.5 821V822M1272.5 823V824" stroke="#000"/><rect x="1271" y="822" width="3" height="2" fill="#000"/><path d="M1274.5 821V822M1274.5 823V824" stroke="#f00"/><rect x="1273" y="822" width="3" height="2" fill="#f00"/><path d="M1277.5 820V821M1277.5 823V824" stroke="#000"/><rect x="1276" y="821" width="3" height="3" fill="#000"/><path d="M1279.5 820V821M1279.5 823V824" stroke="#f00"/><rect x="1278" y="821" width="3" height="3" fill="#f00"/><path d="M1282.5 821V822M1282.5 823V824" stroke="#f00"/><rect x="1281" y="822" width="3" height="2" fill="#f00"/><path d="M1284.5 821V822M1284.5 823V824" stroke="#000"/><rect x="1283" y="822" width="3" height="2" fill="#000"/><path d="M1286.5 820V821M1286.5 822V823" stroke="#000"/><rect x="1285" y="821" width="3" height="2" fill="#000"/><path d="M1287.5 815V816M1287.5 817V818" stroke="#000"/><rect x="1286" y="816" width="3" height="2" fill="#000"/><path d="M1289.5 809V810M1289.5 813V814" stroke="#f00"/><rect x="1288.5" y="810.5" width="2" height="2" fill="#ff8080" stroke="#f00"/><path d="M1292.5 810V811M1292.5 812V813" stroke="#000"/><rect x="1291" y="811" width="3" height="2" fill="#000"/><path d="M1294.5 808V810M1294.5 811V812" stroke="#f00"/><rect x="1293" y="810" width="3" height="2" fill="#f00"/><path d="M1296.5 809V810M1296.5 811V812" stroke="#000"/><rect x="1295" y="810" width="3" height="2" fill="#000"/><path d="M1297.5 806V807M1297.5 809V810" stroke="#000"/><rect x="1296" y="807" width="3" height="3" fill="#000"/><path d="M1299.5 806V807M1299.5 809V810" stroke="#f00"/><rect x="1298" y="807" width="3" height="3" fill="#f00"/><path d="M1302.5 804V805M1302.5 810V811" stroke="#000"/><rect x="1301.5" y="805.5" width="2" height="4" fill="#fff" stroke="#000"/><path d="M1304.5 799V800M1304.5 805V806" stroke="#000"/><rect x="1303.5" y="800.5" width="2" height="4" fill="#fff" stroke="#000"/><path d="M1306.5 798V799M1306.5 803V804" stroke="#000"/><rect x="1305.5" y="799.5" width="2" height="3" fill="#fff" stroke="#000"/><path d="M1307.5 786V787M1307.5 795V796" stroke="#000"/><rect x="1306.5" y="787.5" width="2" height="7" fill="#fff" stroke="#000"/><path d="M1309.5 790V791M1309.5 795V796" stroke="#f00"/><rect x="1308.5" y="791.5" width="2" height="3" fill="#ff8080" stroke="#f00"/><path d="M1311.5 789V790M1311.5 791V792" stroke="#000"/><rect x="1310" y="790" width="3" height="2" fill="#000"/><path d="M1313.5 782V788M1313.5 791V792" stroke="#f00"/><rect x="1312.5" y="788.5" width="2" height="2" fill="#ff8080" stroke="#f00"/><path d="M1314.5 783V784M1314.5 787V788" stroke="#000"/><rect x="1313.5" y="784.5" width="2" height="2" fill="#fff" stroke="#000"/><path d="M1317.5 784V785M1317.5 787V788" stroke="#f00"/><rect x="1316" y="785" width="3" height="3" fill="#f00"/><path d="M1319.5 789V790M1319.5 793V794" stroke="#f00"/><rect x="1318.5" y="790.5" width="2" height="2" fill="#ff8080" stroke="#f00"/><path d="M1320.5 784V785M1320.5 790V791" stroke="#000"/><rect x="1319.5" y="785.5" width="2" height="4" fill="#fff" stroke="#000"/><path d="M1322.5 776V783M1322.5 787V788" stroke="#f00"/><rect x="1321.5" y="783.5" width="2" height="3" fill="#ff8080" stroke="#f00"/><path d="M1324.5 784V785M1324.5 789V790" stroke="#f00"/><rect x="1323.5" y="785.5" width="2" height="3" fill="#ff8080" stroke="#f00"/><path d="M1326.5 782V783" stroke="#000"/><rect x="1325.5" y="778.5" width="2" height="3" fill="#fff" stroke="#000"/><path d="M1328.5 781V782M1328.5 786V787" stroke="#f00"/><rect x="1327.5" y="782.5" width="2" height="3" fill="#ff8080" stroke="#f00"/><path d="M1331.5 783V784M1331.5 786V787" stroke="#000"/><rect x="1330" y="784" width="3" height="3" fill="#000"/><path d="M1332.5 782V783M1332.5 784V785" stroke="#000"/><rect x="1331" y="783" width="3" height="2" fill="#000"/><path d="M1334.5 778V779M1334.5 783V784" stroke="#f00"/><rect x="1333.5" y="779.5" width="2" height="3" fill="#ff8080" stroke="#f00"/><path d="M1336.5 781V782M1336.5 786V787" stroke="#f00"/><rect x="1335.5" y="782.5" width="2" height="3" fill="#ff8080" stroke="#f00"/><path d="M1339.5 780V781M1339.5 785V786" stroke="#000"/><rect x="1338.5" y="781.5" width="2" height="3" fill="#fff" stroke="#000"/><path d="M1343.5 782V783M1343.5 785V786" stroke="#f00"/><rect x="1342" y="783" width="3" height="3" fill="#f00"/><path d="M1345.5 781V782M1345.5 783V784" stroke="#000"/><rect x="1344" y="782" width="3" height="2" fill="#000"/><path d="M1346.5 775V776M1346.5 778V779" stroke="#f00"/><rect x="1345" y="776" width="3" height="3" fill="#f00"/><path d="M1348.5 771V772M1348.5 778V779" stroke="#000"/><rect x="1347.5" y="772.5" width="2" height="5" fill="#fff" stroke="#000"/><path d="M1350.5 763V764M1350.5 771V772" stroke="#000"/><rect x="1349.5" y="764.5" width="2" height="6" fill="#fff" stroke="#000"/><path d="M1352.5 761V762M1352.5 764V765" stroke="#000"/><rect x="1351" y="762" width="3" height="3" fill="#000"/><path d="M1353.5 730V737M1353.5 759V760" stroke="#000"/><rect x="1352.5" y="737.5" width="2" height="21" fill="#fff" stroke="#000"/><path d="M1356.5 731V732M1356.5 740V741" stroke="#f00"/><rect x="1355.5" y="732.5" width="2" height="7" fill="#ff8080" stroke="#f00"/><path d="M1358.5 720V721M1358.5 732V733" stroke="#000"/><rect x="1357.5" y="721.5" width="2" height="10" fill="#fff" stroke="#000"/><path d="M1359.5 708V709M1359.5 734V735" stroke="#000"/><rect x="1358.5" y="709.5" width="2" height="24" fill="#fff" stroke="#000"/><path d="M1361.5 703V705M1361.5 710V711" stroke="#f00"/><rect x="1360.5" y="705.5" width="2" height="4" fill="#ff8080" stroke="#f00"/><path d="M1364.5 708V709M1364.5 717V718" stroke="#f00"/><rect x="1363.5" y="709.5" width="2" height="7" fill="#ff8080" stroke="#f00"/><path d="M1365.5 726V727M1365.5 728V734" stroke="#000"/><rect x="1364" y="727" width="3" height="2" fill="#000"/><path d="M1367.5 716V717M1367.5 728V729" stroke="#f00"/><rect x="1366.5" y="717.5" width="2" height="10" fill="#ff8080" stroke="#f00"/><path d="M1370.5 715V716M1370.5 724V725" stroke="#000"/><rect x="1369.5" y="716.5" width="2" height="7" fill="#fff" stroke="#000"/><path d="M1372.5 714V715M1372.5 722V723" stroke="#000"/><rect x="1371.5" y="715.5" width="2" height="6" fill="#fff" stroke="#000"/><path d="M1373.5 713V714M1373.5 715V716" stroke="#f00"/><rect x="1372" y="714" width="3" height="2" fill="#f00"/><path d="M1375.5 709V710M1375.5 721V722" stroke="#000"/><rect x="1374.5" y="710.5" width="2" height="10" fill="#fff" stroke="#000"/><path d="M1377.5 699V700M1377.5 714V715" stroke="#f00"/><rect x="1376.5" y="700.5" width="2" height="13" fill="#ff8080" stroke="#f00"/><path d="M1379.5 715V716M1379.5 719V720" stroke="#f00"/><rect x="1378.5" y="716.5" width="2" height="2" fill="#ff8080" stroke="#f00"/><path d="M1382.5 710V712M1382.5 717V718" stroke="#f00"/><rect x="1381.5" y="712.5" width="2" height="4" fill="#ff8080" stroke="#f00"/><path d="M1383.5 716V717M1383.5 732V738" stroke="#f00"/><rect x="1382.5" y="717.5" width="2" height="14" fill="#ff8080" stroke="#f00"/><path d="M1385.5 726V727M1385.5 732V733" stroke="#000"/><rect x="1384.5" y="727.5" width="2" height="4" fill="#fff" stroke="#000"/><path d="M1386.5 733V734M1386.5 741V742" stroke="#f00"/><rect x="1385.5" y="734.5" width="2" height="6" fill="#ff8080" stroke="#f00"/><path d="M1388.5 737V738M1388.5 755V756" stroke="#000"/><rect x="1387.5" y="738.5" width="2" height="16" fill="#fff" stroke="#000"/><path d="M1391.5 739V740M1391.5 750V751" stroke="#f00"/><rect x="1390.5" y="740.5" width="2" height="9" fill="#ff8080" stroke="#f00"/><path d="M1393.5 743V744M1393.5 746V750" stroke="#000"/><rect x="1392" y="744" width="3" height="3" fill="#000"/><path d="M1394.5 717V724M1394.5 726V727" stroke="#000"/><rect x="1393" y="724" width="3" height="3" fill="#000"/><path d="M1396.5 725V726M1396.5 732V733" stroke="#f00"/><rect x="1395.5" y="726.5" width="2" height="5" fill="#ff8080" stroke="#f00"/><path d="M1398.5 737V738M1398.5 740V741" stroke="#f00"/><rect x="1397" y="738" width="3" height="3" fill="#f00"/><path d="M1400.5 737V738M1400.5 739V740" stroke="#000"/><rect x="1399" y="738" width="3" height="2" fill="#000"/><path d="M1402.5 739V740M1402.5 741V742" stroke="#f00"/><rect x="1401" y="740" width="3" height="2" fill="#f00"/><path d="M1404.5 741V742M1404.5 750V751" stroke="#f00"/><rect x="1403.5" y="742.5" width="2" height="7" fill="#ff8080" stroke="#f00"/><path d="M1407.5 750V755" stroke="#000"/><rect x="1406" y="749" width="3" height="2" fill="#000"/><path d="M1408.5 751V752M1408.5 755V756" stroke="#f00"/><rect x="1407.5" y="752.5" width="2" height="2" fill="#ff8080" stroke="#f00"/><path d="M1411.5 753V754M1411.5 759V762" stroke="#f00"/><rect x="1410.5" y="754.5" width="2" height="4" fill="#ff8080" stroke="#f00"/><path d="M1412.5 756V757M1412.5 759V760" stroke="#000"/><rect x="1411" y="757" width="3" height="3" fill="#000"/><path d="M1414.5 756V757M1414.5 759V760" stroke="#f00"/><rect x="1413" y="757" width="3" height="3" fill="#f00"/><path d="M1417.5 754V755M1417.5 757V758" stroke="#000"/><rect x="1416" y="755" width="3" height="3" fill="#000"/><path d="M1418.5 742V743M1418.5 752V753" stroke="#000"/><rect x="1417.5" y="743.5" width="2" height="8" fill="#fff" stroke="#000"/><path d="M1420.5 740V741M1420.5 745V746" stroke="#f00"/><rect x="1419.5" y="741.5" width="2" height="3" fill="#ff8080" stroke="#f00"/><path d="M1422.5 745V746M1422.5 748V749" stroke="#f00"/><rect x="1421" y="746" width="3" height="3" fill="#f00"/><path d="M1424.5 748V749M1424.5 751V752" stroke="#000"/><rect x="1423" y="749" width="3" height="3" fill="#000"/><path d="M1426.5 743V746M1426.5 747V748" stroke="#000"/><rect x="1425" y="746" width="3" height="2" fill="#000"/><path d="M1427.5 748V749M1427.5 750V751" stroke="#f00"/><rect x="1426" y="749" width="3" height="2" fill="#f00"/><path d="M1429.5 747V748M1429.5 750V751" stroke="#000"/><rect x="1428" y="748" width="3" height="3" fill="#000"/><path d="M1432.5 750V751M1432.5 753V755" stroke="#000"/><rect x="1431" y="751" width="3" height="3" fill="#000"/><path d="M1434.5 740V741M1434.5 745V746" stroke="#000"/><rect x="1433.5" y="741.5" width="2" height="3" fill="#fff" stroke="#000"/><path d="M1435.5 736V737M1435.5 740V741" stroke="#000"/><rect x="1434.5" y="737.5" width="2" height="2" fill="#fff" stroke="#000"/><path d="M1437.5 731V732M1437.5 737V738" stroke="#000"/><rect x="1436.5" y="732.5" width="2" height="4" fill="#fff" stroke="#000"/><path d="M1439.5 732V734M1439.5 737V738" stroke="#f00"/><rect x="1438.5" y="734.5" width="2" height="2" fill="#ff8080" stroke="#f00"/><path d="M1442.5 726V727M1442.5 735V736" stroke="#000"/><rect x="1441.5" y="727.5" width="2" height="7" fill="#fff" stroke="#000"/><path d="M1444.5 720V721M1444.5 726V727" stroke="#000"/><rect x="1443.5" y="721.5" width="2" height="4" fill="#fff" stroke="#000"/><path d="M1446.5 716V717M1446.5 722V723" stroke="#f00"/><rect x="1445.5" y="717.5" width="2" height="4" fill="#ff8080" stroke="#f00"/><path d="M1447.5 710V713M1447.5 714V715" stroke="#000"/><rect x="1446" y="713" width="3" height="2" fill="#000"/><path d="M1449.5 710V712M1449.5 715V716" stroke="#f00"/><rect x="1448.5" y="712.5" width="2" height="2" fill="#ff8080" stroke="#f00"/><path d="M1451.5 713V719M1451.5 725V726" stroke="#f00"/><rect x="1450.5" y="719.5" width="2" height="5" fill="#ff8080" stroke="#f00"/><path d="M1452.5 717V718M1452.5 725V726" stroke="#f00"/><rect x="1451.5" y="718.5" width="2" height="6" fill="#ff8080" stroke="#f00"/><path d="M1454.5 717V718M1454.5 726V727" stroke="#000"/><rect x="1453.5" y="718.5" width="2" height="7" fill="#fff" stroke="#000"/><path d="M1456.5 713V714M1456.5 726V727" stroke="#000"/><rect x="1455.5" y="714.5" width="2" height="11" fill="#fff" stroke="#000"/><path d="M1458.5 712V713M1458.5 714V715" stroke="#000"/><rect x="1457" y="713" width="3" height="2" fill="#000"/><path d="M1460.5 705V715M1460.5 716V717" stroke="#f00"/><rect x="1459" y="715" width="3" height="2" fill="#f00"/><path d="M1462.5 691V698M1462.5 706V707" stroke="#000"/><rect x="1461.5" y="698.5" width="2" height="7" fill="#fff" stroke="#000"/><path d="M1465.5 693V694M1465.5 700V701" stroke="#000"/><rect x="1464.5" y="694.5" width="2" height="5" fill="#fff" stroke="#000"/><path d="M1466.5 664V670M1466.5 677V678" stroke="#000"/><rect x="1465.5" y="670.5" width="2" height="6" fill="#fff" stroke="#000"/><path d="M1468.5 669V672M1468.5 713V714" stroke="#f00"/><rect x="1467.5" y="672.5" width="2" height="40" fill="#ff8080" stroke="#f00"/><path d="M1471.5 680V681M1471.5 696V697" stroke="#000"/><rect x="1470.5" y="681.5" width="2" height="14" fill="#fff" stroke="#000"/><path d="M1472.5 676V677M1472.5 683V684" stroke="#000"/><rect x="1471.5" y="677.5" width="2" height="5" fill="#fff" stroke="#000"/><path d="M1474.5 679V680M1474.5 684V685" stroke="#f00"/><rect x="1473.5" y="680.5" width="2" height="3" fill="#ff8080" stroke="#f00"/><path d="M1475.5 682V683M1475.5 688V689" stroke="#000"/><rect x="1474.5" y="683.5" width="2" height="4" fill="#fff" stroke="#000"/><path d="M1477.5 669V670M1477.5 689V690" stroke="#000"/><rect x="1476.5" y="670.5" width="2" height="18" fill="#fff" stroke="#000"/><path d="M1478.5 673V674M1478.5 679V684" stroke="#f00"/><rect x="1477.5" y="674.5" width="2" height="4" fill="#ff8080" stroke="#f00"/><path d="M1480.5 671V673M1480.5 677V678" stroke="#000"/><rect x="1479.5" y="673.5" width="2" height="3" fill="#fff" stroke="#000"/><path d="M1482.5 661V677M1482.5 682V683" stroke="#f00"/><rect x="1481.5" y="677.5" width="2" height="4" fill="#ff8080" stroke="#f00"/><path d="M1484.5 680V681M1484.5 694V695" stroke="#000"/><rect x="1483.5" y="681.5" width="2" height="12" fill="#fff" stroke="#000"/><path d="M1486.5 693V699M1486.5 705V706" stroke="#f00"/><rect x="1485.5" y="699.5" width="2" height="5" fill="#ff8080" stroke="#f00"/><path d="M1488.5 710V711M1488.5 719V720" stroke="#f00"/><rect x="1487.5" y="711.5" width="2" height="7" fill="#ff8080" stroke="#f00"/><path d="M1490.5 708V709M1490.5 724V727" stroke="#000"/><rect x="1489.5" y="709.5" width="2" height="14" fill="#fff" stroke="#000"/><path d="M1492.5 707V708M1492.5 713V714" stroke="#000"/><rect x="1491.5" y="708.5" width="2" height="4" fill="#fff" stroke="#000"/><path d="M1493.5 709V710M1493.5 717V718" stroke="#f00"/><rect x="1492.5" y="710.5" width="2" height="6" fill="#ff8080" stroke="#f00"/><path d="M1495.5 700V701M1495.5 706V707" stroke="#000"/><rect x="1494.5" y="701.5" width="2" height="4" fill="#fff" stroke="#000"/><path d="M1497.5 697V701M1497.5 704V705" stroke="#f00"/><rect x="1496.5" y="701.5" width="2" height="2" fill="#ff8080" stroke="#f00"/><path d="M1499.5 702V703M1499.5 707V711" stroke="#f00"/><rect x="1498.5" y="703.5" width="2" height="3" fill="#ff8080" stroke="#f00"/><path d="M1501.5 704V705M1501.5 708V709" stroke="#000"/><rect x="1500.5" y="705.5" width="2" height="2" fill="#fff" stroke="#000"/><path d="M1503.5 720V721M1503.5 723V724" stroke="#f00"/><rect x="1502" y="721" width="3" height="3" fill="#f00"/><path d="M1505.5 722V723M1505.5 727V728" stroke="#f00"/><rect x="1504.5" y="723.5" width="2" height="3" fill="#ff8080" stroke="#f00"/><path d="M1507.5 723V725M1507.5 728V730" stroke="#000"/><rect x="1506.5" y="725.5" width="2" height="2" fill="#fff" stroke="#000"/><path d="M1509.5 726V727M1509.5 729V730" stroke="#000"/><rect x="1508" y="727" width="3" height="3" fill="#000"/><path d="M1511.5 716V717M1511.5 725V726" stroke="#000"/><rect x="1510.5" y="717.5" width="2" height="7" fill="#fff" stroke="#000"/><path d="M1513.5 714V717M1513.5 720V721" stroke="#f00"/><rect x="1512.5" y="717.5" width="2" height="2" fill="#ff8080" stroke="#f00"/><path d="M1516.5 723V725M1516.5 726V729" stroke="#000"/><rect x="1515" y="725" width="3" height="2" fill="#000"/><path d="M1518.5 722V723M1518.5 724V725" stroke="#f00"/><rect x="1517" y="723" width="3" height="2" fill="#f00"/><path d="M1519.5 722V723M1519.5 756V757" stroke="#f00"/><rect x="1518.5" y="723.5" width="2" height="32" fill="#ff8080" stroke="#f00"/><path d="M1521.5 750V751M1521.5 756V757" stroke="#f00"/><rect x="1520.5" y="751.5" width="2" height="4" fill="#ff8080" stroke="#f00"/><path d="M1522.5 759V760M1522.5 763V764" stroke="#f00"/><rect x="1521.5" y="760.5" width="2" height="2" fill="#ff8080" stroke="#f00"/><path d="M1524.5 756V760M1524.5 765V766" stroke="#f00"/><rect x="1523.5" y="760.5" width="2" height="4" fill="#ff8080" stroke="#f00"/><path d="M1526.5 760V761M1526.5 765V767" stroke="#f00"/><rect x="1525.5" y="761.5" width="2" height="3" fill="#ff8080" stroke="#f00"/><path d="M1528.5 757V758M1528.5 766V767" stroke="#000"/><rect x="1527.5" y="758.5" width="2" height="7" fill="#fff" stroke="#000"/><path d="M1530.5 743V744M1530.5 748V749" stroke="#000"/><rect x="1529.5" y="744.5" width="2" height="3" fill="#fff" stroke="#000"/><path d="M1532.5 744V746M1532.5 748V749" stroke="#f00"/><rect x="1531" y="746" width="3" height="3" fill="#f00"/><path d="M1534.5 746V747M1534.5 755V756" stroke="#f00"/><rect x="1533.5" y="747.5" width="2" height="7" fill="#ff8080" stroke="#f00"/><path d="M1537.5 755V756M1537.5 757V758" stroke="#000"/><rect x="1536" y="756" width="3" height="2" fill="#000"/><path d="M1538.5 757V758M1538.5 759V760" stroke="#f00"/><rect x="1537" y="758" width="3" height="2" fill="#f00"/><path d="M1541.5 760V761M1541.5 762V763" stroke="#f00"/><rect x="1540" y="761" width="3" height="2" fill="#f00"/><path d="M1543.5 760V761M1543.5 768V769" stroke="#f00"/><rect x="1542.5" y="761.5" width="2" height="6" fill="#ff8080" stroke="#f00"/><path d="M1545.5 761V762M1545.5 763V764" stroke="#000"/><rect x="1544" y="762" width="3" height="2" fill="#000"/><path d="M1547.5 758V759M1547.5 763V764" stroke="#000"/><rect x="1546.5" y="759.5" width="2" height="3" fill="#fff" stroke="#000"/><path d="M1549.5 759V760M1549.5 763V764" stroke="#000"/><rect x="1548.5" y="760.5" width="2" height="2" fill="#fff" stroke="#000"/><path d="M1551.5 762V763M1551.5 764V765" stroke="#f00"/><rect x="1550" y="763" width="3" height="2" fill="#f00"/><path d="M1552.5 759V760M1552.5 765V766" stroke="#000"/><rect x="1551.5" y="760.5" width="2" height="4" fill="#fff" stroke="#000"/><path d="M1554.5 759V760M1554.5 764V765" stroke="#f00"/><rect x="1553.5" y="760.5" width="2" height="3" fill="#ff8080" stroke="#f00"/><path d="M1556.5 758V759M1556.5 764V765" stroke="#f00"/><rect x="1555.5" y="759.5" width="2" height="4" fill="#ff8080" stroke="#f00"/><path d="M1558.5 763V764M1558.5 769V770" stroke="#000"/><rect x="1557.5" y="764.5" width="2" height="4" fill="#fff" stroke="#000"/><path d="M1560.5 767V768M1560.5 769V770" stroke="#f00"/><rect x="1559" y="768" width="3" height="2" fill="#f00"/><path d="M1562.5 764V765M1562.5 769V770" stroke="#000"/><rect x="1561.5" y="765.5" width="2" height="3" fill="#fff" stroke="#000"/><path d="M1564.5 760V761M1564.5 762V763" stroke="#000"/><rect x="1563" y="761" width="3" height="2" fill="#000"/><path d="M1565.5 753V754M1565.5 760V761" stroke="#000"/><rect x="1564.5" y="754.5" width="2" height="5" fill="#fff" stroke="#000"/><path d="M1568.5 754V755M1568.5 758V759" stroke="#000"/><rect x="1567.5" y="755.5" width="2" height="2" fill="#fff" stroke="#000"/><path d="M1569.5 747V749M1569.5 750V751" stroke="#f00"/><rect x="1568" y="749" width="3" height="2" fill="#f00"/><path d="M1572.5 750V751M1572.5 755V756" stroke="#f00"/><rect x="1571.5" y="751.5" width="2" height="3" fill="#ff8080" stroke="#f00"/><path d="M1574.5 752V753M1574.5 760V761" stroke="#f00"/><rect x="1573.5" y="753.5" width="2" height="6" fill="#ff8080" stroke="#f00"/><path d="M1575.5 757V758M1575.5 761V762" stroke="#f00"/><rect x="1574.5" y="758.5" width="2" height="2" fill="#ff8080" stroke="#f00"/><path d="M1577.5 757V758M1577.5 760V761" stroke="#000"/><rect x="1576" y="758" width="3" height="3" fill="#000"/><path d="M1579.5 759V760M1579.5 761V762" stroke="#f00"/><rect x="1578" y="760" width="3" height="2" fill="#f00"/><path d="M1581.5 759V760M1581.5 762V763" stroke="#f00"/><rect x="1580" y="760" width="3" height="3" fill="#f00"/><path d="M1584.5 761V762M1584.5 764V765" stroke="#f00"/><rect x="1583" y="762" width="3" height="3" fill="#f00"/><path d="M1585.5 762V763M1585.5 764V765" stroke="#f00"/><rect x="1584" y="763" width="3" height="2" fill="#f00"/><path d="M1588.5 760V761M1588.5 763V764" stroke="#000"/><rect x="1587" y="761" width="3" height="3" fill="#000"/><path d="M1589.5 758V759M1589.5 760V761" stroke="#000"/><rect x="1588" y="759" width="3" height="2" fill="#000"/><path d="M1591.5 759V760M1591.5 761V762" stroke="#f00"/><rect x="1590" y="760" width="3" height="2" fill="#f00"/><path d="M1594.5 759V760M1594.5 761V762" stroke="#f00"/><rect x="1593" y="760" width="3" height="2" fill="#f00"/><path d="M1595.5 752V761M1595.5 766V767" stroke="#f00"/><rect x="1594.5" y="761.5" width="2" height="4" fill="#ff8080" stroke="#f00"/><path d="M1597.5 764V765M1597.5 766V767" stroke="#000"/><rect x="1596" y="765" width="3" height="2" fill="#000"/><path d="M1600.5 766V767M1600.5 772V774" stroke="#f00"/><rect x="1599.5" y="767.5" width="2" height="4" fill="#ff8080" stroke="#f00"/><path d="M1601.5 766V767M1601.5 771V772" stroke="#000"/><rect x="1600.5" y="767.5" width="2" height="3" fill="#fff" stroke="#000"/><path d="M1602.5 768V769M1602.5 771V772" stroke="#f00"/><rect x="1601" y="769" width="3" height="3" fill="#f00"/><path d="M1604.5 770V771M1604.5 778V779" stroke="#f00"/><rect x="1603.5" y="771.5" width="2" height="6" fill="#ff8080" stroke="#f00"/><path d="M1607.5 773V774M1607.5 775V778" stroke="#000"/><rect x="1606" y="774" width="3" height="2" fill="#000"/><path d="M1608.5 783V784M1608.5 786V787" stroke="#f00"/><rect x="1607" y="784" width="3" height="3" fill="#f00"/><path d="M1610.5 779V780M1610.5 782V783" stroke="#f00"/><rect x="1609" y="780" width="3" height="3" fill="#f00"/><path d="M1612.5 780V781M1612.5 782V783" stroke="#f00"/><rect x="1611" y="781" width="3" height="2" fill="#f00"/><path d="M1614.5 781V782M1614.5 784V785" stroke="#f00"/><rect x="1613" y="782" width="3" height="3" fill="#f00"/><path d="M1616.5 783V784M1616.5 786V787" stroke="#f00"/><rect x="1615" y="784" width="3" height="3" fill="#f00"/><path d="M1618.5 778V779M1618.5 781V782" stroke="#000"/><rect x="1617" y="779" width="3" height="3" fill="#000"/><path d="M1621.5 779V780M1621.5 782V783" stroke="#f00"/><rect x="1620" y="780" width="3" height="3" fill="#f00"/><path d="M1622.5 780V781M1622.5 783V784" stroke="#000"/><rect x="1621" y="781" width="3" height="3" fill="#000"/><path d="M1624.5 778V779M1624.5 781V782" stroke="#000"/><rect x="1623" y="779" width="3" height="3" fill="#000"/><path d="M1626.5 776V777M1626.5 778V779" stroke="#000"/><rect x="1625" y="777" width="3" height="2" fill="#000"/><path d="M1628.5 772V773M1628.5 776V777" stroke="#000"/><rect x="1627.5" y="773.5" width="2" height="2" fill="#fff" stroke="#000"/><path d="M1630.5 772V773M1630.5 777V778" stroke="#f00"/><rect x="1629.5" y="773.5" width="2" height="3" fill="#ff8080" stroke="#f00"/><path d="M1632.5 778V779M1632.5 784V785" stroke="#f00"/><rect x="1631.5" y="779.5" width="2" height="4" fill="#ff8080" stroke="#f00"/><path d="M1634.5 791V792M1634.5 799V800" stroke="#000"/><rect x="1633.5" y="792.5" width="2" height="6" fill="#fff" stroke="#000"/><path d="M1635.5 788V789M1635.5 795V796" stroke="#000"/><rect x="1634.5" y="789.5" width="2" height="5" fill="#fff" stroke="#000"/><path d="M1636.5 784V785M1636.5 792V793" stroke="#000"/><rect x="1635.5" y="785.5" width="2" height="6" fill="#fff" stroke="#000"/><path d="M1638.5 784V785M1638.5 787V788" stroke="#000"/><rect x="1637" y="785" width="3" height="3" fill="#000"/><path d="M1640.5 781V782M1640.5 785V786" stroke="#000"/><rect x="1639.5" y="782.5" width="2" height="2" fill="#fff" stroke="#000"/><path d="M1642.5 777V778M1642.5 782V783" stroke="#000"/><rect x="1641.5" y="778.5" width="2" height="3" fill="#fff" stroke="#000"/><path d="M1644.5 772V773M1644.5 778V779" stroke="#000"/><rect x="1643.5" y="773.5" width="2" height="4" fill="#fff" stroke="#000"/><path d="M1645.5 766V767M1645.5 768V769" stroke="#000"/><rect x="1644" y="767" width="3" height="2" fill="#000"/><path d="M1647.5 764V765M1647.5 767V768" stroke="#f00"/><rect x="1646" y="765" width="3" height="3" fill="#f00"/><path d="M1650.5 762V763M1650.5 766V767" stroke="#f00"/><rect x="1649.5" y="763.5" width="2" height="2" fill="#ff8080" stroke="#f00"/><path d="M1651.5 766V767M1651.5 771V772" stroke="#f00"/><rect x="1650.5" y="767.5" width="2" height="3" fill="#ff8080" stroke="#f00"/><path d="M1654.5 766V767M1654.5 772V773" stroke="#000"/><rect x="1653.5" y="767.5" width="2" height="4" fill="#fff" stroke="#000"/><path d="M1656.5 766V767M1656.5 769V770" stroke="#f00"/><rect x="1655" y="767" width="3" height="3" fill="#f00"/><path d="M1658.5 769V770M1658.5 776V777" stroke="#f00"/><rect x="1657.5" y="770.5" width="2" height="5" fill="#ff8080" stroke="#f00"/><path d="M1660.5 774V775M1660.5 776V777" stroke="#000"/><rect x="1659" y="775" width="3" height="2" fill="#000"/><path d="M1661.5 778V779M1661.5 781V782" stroke="#f00"/><rect x="1660" y="779" width="3" height="3" fill="#f00"/><path d="M1663.5 773V774M1663.5 777V778" stroke="#000"/><rect x="1662.5" y="774.5" width="2" height="2" fill="#fff" stroke="#000"/><path d="M1666.5 770V771M1666.5 776V777" stroke="#f00"/><rect x="1665.5" y="771.5" width="2" height="4" fill="#ff8080" stroke="#f00"/><path d="M1667.5 776V777M1667.5 778V779" stroke="#f00"/><rect x="1666" y="777" width="3" height="2" fill="#f00"/><path d="M1670.5 776V777M1670.5 779V780" stroke="#f00"/><rect x="1669" y="777" width="3" height="3" fill="#f00"/><path d="M1671.5 780V781M1671.5 786V787" stroke="#f00"/><rect x="1670.5" y="781.5" width="2" height="4" fill="#ff8080" stroke="#f00"/><path d="M1673.5 782V783M1673.5 788V789" stroke="#f00"/><rect x="1672.5" y="783.5" width="2" height="4" fill="#ff8080" stroke="#f00"/><path d="M1675.5 802V811" stroke="#f00"/><rect x="1674" y="801" width="3" height="2" fill="#f00"/><path d="M1677.5 796V797M1677.5 799V800" stroke="#000"/><rect x="1676" y="797" width="3" height="3" fill="#000"/><path d="M1678.5 796V797M1678.5 801V802" stroke="#f00"/><rect x="1677.5" y="797.5" width="2" height="3" fill="#ff8080" stroke="#f00"/><path d="M1681.5 794V795M1681.5 796V797" stroke="#000"/><rect x="1680" y="795" width="3" height="2" fill="#000"/><path d="M1683.5 792V793M1683.5 794V795" stroke="#f00"/><rect x="1682" y="793" width="3" height="2" fill="#f00"/><path d="M1685.5 793V794M1685.5 798V799" stroke="#000"/><rect x="1684.5" y="794.5" width="2" height="3" fill="#fff" stroke="#000"/><path d="M1686.5 794V795M1686.5 796V797" stroke="#000"/><rect x="1685" y="795" width="3" height="2" fill="#000"/><path d="M1688.5 794V795M1688.5 798V799" stroke="#f00"/><rect x="1687.5" y="795.5" width="2" height="2" fill="#ff8080" stroke="#f00"/><path d="M1691.5 794V795M1691.5 800V801" stroke="#f00"/><rect x="1690.5" y="795.5" width="2" height="4" fill="#ff8080" stroke="#f00"/><path d="M1692.5 796V797M1692.5 800V801" stroke="#000"/><rect x="1691.5" y="797.5" width="2" height="2" fill="#fff" stroke="#000"/><path d="M1695.5 795V796M1695.5 797V798" stroke="#000"/><rect x="1694" y="796" width="3" height="2" fill="#000"/><path d="M1697.5 793V794M1697.5 795V796" stroke="#000"/><rect x="1696" y="794" width="3" height="2" fill="#000"/><path d="M1698.5 785V786M1698.5 794V795" stroke="#000"/><rect x="1697.5" y="786.5" width="2" height="7" fill="#fff" stroke="#000"/><path d="M1701.5 785V786M1701.5 787V788" stroke="#000"/><rect x="1700" y="786" width="3" height="2" fill="#000"/><path d="M1703.5 780V781M1703.5 785V786" stroke="#000"/><rect x="1702.5" y="781.5" width="2" height="3" fill="#fff" stroke="#000"/><path d="M1704.5 782V783M1704.5 788V789" stroke="#f00"/><rect x="1703.5" y="783.5" width="2" height="4" fill="#ff8080" stroke="#f00"/><path d="M1707.5 786V787M1707.5 788V789" stroke="#f00"/><rect x="1706" y="787" width="3" height="2" fill="#f00"/><path d="M1708.5 791V792M1708.5 793V794" stroke="#000"/><rect x="1707" y="792" width="3" height="2" fill="#000"/><path d="M1709.5 788V791M1709.5 793V794" stroke="#f00"/><rect x="1708" y="791" width="3" height="3" fill="#f00"/><path d="M1712.5 791V792M1712.5 794V795" stroke="#f00"/><rect x="1711" y="792" width="3" height="3" fill="#f00"/><path d="M1713.5 797V798M1713.5 799V800" stroke="#000"/><rect x="1712" y="798" width="3" height="2" fill="#000"/><path d="M1715.5 796V797M1715.5 801V802" stroke="#f00"/><rect x="1714.5" y="797.5" width="2" height="3" fill="#ff8080" stroke="#f00"/><path d="M1718.5 799V800M1718.5 802V803" stroke="#000"/><rect x="1717" y="800" width="3" height="3" fill="#000"/><path d="M1719.5 795V796M1719.5 801V802" stroke="#000"/><rect x="1718.5" y="796.5" width="2" height="4" fill="#fff" stroke="#000"/><path d="M1722.5 798V799M1722.5 804V805" stroke="#f00"/><rect x="1721.5" y="799.5" width="2" height="4" fill="#ff8080" stroke="#f00"/><path d="M1724.5 793V794M1724.5 795V796" stroke="#f00"/><rect x="1723" y="794" width="3" height="2" fill="#f00"/><path d="M1726.5 794V795M1726.5 796V797" stroke="#000"/><rect x="1725" y="795" width="3" height="2" fill="#000"/><path d="M1728.5 793V794M1728.5 796V798" stroke="#000"/><rect x="1727" y="794" width="3" height="3" fill="#000"/><path d="M1730.5 790V791M1730.5 792V793" stroke="#f00"/><rect x="1729" y="791" width="3" height="2" fill="#f00"/><path d="M1732.5 788V789M1732.5 791V792" stroke="#000"/><rect x="1731" y="789" width="3" height="3" fill="#000"/><path d="M1734.5 796V797M1734.5 798V799" stroke="#f00"/><rect x="1733" y="797" width="3" height="2" fill="#f00"/><path d="M1736.5 794V795M1736.5 797V798" stroke="#000"/><rect x="1735" y="795" width="3" height="3" fill="#000"/><path d="M1738.5 794V795M1738.5 797V798" stroke="#f00"/><rect x="1737" y="795" width="3" height="3" fill="#f00"/><path d="M1739.5 790V791M1739.5 793V794" stroke="#000"/><rect x="1738" y="791" width="3" height="3" fill="#000"/><path d="M1742.5 789V790M1742.5 792V793" stroke="#f00"/><rect x="1741" y="790" width="3" height="3" fill="#f00"/><path d="M1744.5 788V789M1744.5 790V791" stroke="#000"/><rect x="1743" y="789" width="3" height="2" fill="#000"/><path d="M1745.5 782V783M1745.5 789V790" stroke="#000"/><rect x="1744.5" y="783.5" width="2" height="5" fill="#fff" stroke="#000"/><path d="M1746.5 781V782M1746.5 783V784" stroke="#000"/><rect x="1745" y="782" width="3" height="2" fill="#000"/><path d="M1748.5 777V778M1748.5 782V783" stroke="#000"/><rect x="1747.5" y="778.5" width="2" height="3" fill="#fff" stroke="#000"/><path d="M1750.5 774V775M1750.5 778V779" stroke="#f00"/><rect x="1749.5" y="775.5" width="2" height="2" fill="#ff8080" stroke="#f00"/><path d="M1752.5 780V781M1752.5 783V784" stroke="#f00"/><rect x="1751" y="781" width="3" height="3" fill="#f00"/><path d="M1754.5 782V783M1754.5 790V791" stroke="#f00"/><rect x="1753.5" y="783.5" width="2" height="6" fill="#ff8080" stroke="#f00"/><path d="M1756.5 788V789M1756.5 797V798" stroke="#f00"/><rect x="1755.5" y="789.5" width="2" height="7" fill="#ff8080" stroke="#f00"/><path d="M1759.5 793V794M1759.5 796V797" stroke="#f00"/><rect x="1758" y="794" width="3" height="3" fill="#f00"/><path d="M1761.5 791V792M1761.5 793V794" stroke="#000"/><rect x="1760" y="792" width="3" height="2" fill="#000"/><path d="M1763.5 787V788M1763.5 792V793" stroke="#f00"/><rect x="1762.5" y="788.5" width="2" height="3" fill="#ff8080" stroke="#f00"/><path d="M1764.5 790V791M1764.5 795V796" stroke="#f00"/><rect x="1763.5" y="791.5" width="2" height="3" fill="#ff8080" stroke="#f00"/><path d="M1766.5 793V794M1766.5 796V797" stroke="#f00"/><rect x="1765" y="794" width="3" height="3" fill="#f00"/><path d="M1768.5 794V795M1768.5 797V798" stroke="#f00"/><rect x="1767" y="795" width="3" height="3" fill="#f00"/><path d="M1771.5 790V791M1771.5 796V797" stroke="#000"/><rect x="1770.5" y="791.5" width="2" height="4" fill="#fff" stroke="#000"/><path d="M1773.5 787V788M1773.5 792V793" stroke="#000"/><rect x="1772.5" y="788.5" width="2" height="3" fill="#fff" stroke="#000"/><path d="M1774.5 787V789M1774.5 791V792" stroke="#f00"/><rect x="1773" y="789" width="3" height="3" fill="#f00"/><path d="M1776.5 789V790M1776.5 791V792" stroke="#f00"/><rect x="1775" y="790" width="3" height="2" fill="#f00"/><path d="M1779.5 791V792M1779.5 795V796" stroke="#f00"/><rect x="1778.5" y="792.5" width="2" height="2" fill="#ff8080" stroke="#f00"/><path d="M1782.5 786V788M1782.5 790V791" stroke="#f00"/><rect x="1781" y="788" width="3" height="3" fill="#f00"/><path d="M1784.5 787V788M1784.5 789V790" stroke="#000"/><rect x="1783" y="788" width="3" height="2" fill="#000"/><path d="M1785.5 788V789M1785.5 794V795" stroke="#f00"/><rect x="1784.5" y="789.5" width="2" height="4" fill="#ff8080" stroke="#f00"/><path d="M1788.5 791V792M1788.5 794V795" stroke="#f00"/><rect x="1787" y="792" width="3" height="3" fill="#f00"/><path d="M1790.5 794V795M1790.5 797V798" stroke="#f00"/><rect x="1789" y="795" width="3" height="3" fill="#f00"/><path d="M1792.5 794V795M1792.5 798V799" stroke="#000"/><rect x="1791.5" y="795.5" width="2" height="2" fill="#fff" stroke="#000"/><path d="M1794.5 793V794M1794.5 795V796" stroke="#000"/><rect x="1793" y="794" width="3" height="2" fill="#000"/></g>
<path d="M1790 1L1797 1L1793.5 5Z" fill="#22c022"/>
<path d="M5 852.5H1837M5 880.5H1837M5 909.5H1837" stroke="#000" stroke-width="1" shape-rendering="crispEdges"/>
<text x="816" y="851" font-size="12.8" fill="#000" textLength="38" lengthAdjust="spacing">80.000</text>
<text x="1182" y="879" font-size="12.8" fill="#000" textLength="38" lengthAdjust="spacing">50.000</text>
<path d="M36.3 867.6L39.5 863.2L43.8 872.6L52.6 897.6L55.1 896.4L60.1 873.8L65.1 853.8L70.1 846.9L77.7 846.9L81.4 850.0L85.2 857.6L90.2 878.9L95.2 891.4L100.2 883.9L107.7 871.3L111.5 877.6L116.5 895.1L121.5 905.2L127.8 908.9L132.8 900.1L139.0 880.1L145.3 861.3L150.3 852.5L154.1 862.6L159.1 886.4L164.1 915.2L167.9 915.2L171.6 907.7L176.6 880.1L181.6 865.1L187.9 856.3L192.9 846.3L197.9 838.8L202.9 838.8L206.7 841.9L213.0 841.9L218.0 842.5L225.5 850.7L230.5 850.7L233.8 856.3L237.5 873.8L240.0 890.1L243.8 901.4L247.5 905.2L251.3 906.4L255.1 908.9L260.1 906.4L265.1 901.4L270.1 900.8L273.2 895.1L275.7 882.6L279.5 867.6L282.0 864.4L285.1 870.1L288.9 881.4L292.6 892.6L297.6 895.8L301.4 895.1L305.2 900.1L308.3 903.9L311.4 910.2L316.4 910.2L320.2 898.9L325.2 882.6L328.3 878.9L331.5 886.4L335.2 900.1L339.0 911.4L342.7 917.1L346.5 917.7L351.5 916.4L355.3 912.0L361.5 904.5L366.5 910.2L371.6 917.7L375.3 918.9L379.1 916.4L382.8 905.2L386.6 880.1L391.0 864.4L394.1 867.6L397.9 886.4L401.6 901.4L405.4 912.0L409.1 908.9L412.9 892.6L416.6 870.1L419.2 863.2L422.9 873.8L426.7 891.4L430.4 906.4L434.8 912.7L439.2 910.2L443.0 898.9L446.7 878.9L450.5 866.3L454.2 873.8L458.0 892.6L461.7 907.7L465.0 916.4L470.0 910.2L475.0 896.4L480.7 881.4L485.1 886.4L488.8 900.1L492.6 913.9L495.7 915.2L498.8 905.2L501.3 888.9L503.8 872.6L506.3 855.1L508.9 845.0L512.0 841.3L516.4 842.5L521.4 847.5L524.5 855.1L527.6 876.3L531.4 896.4L535.2 915.2L537.7 920.8L542.7 921.4L547.7 920.2L552.7 919.6L557.7 920.2L560.2 917.7L565.2 911.4L570.2 915.2L573.4 915.2L576.5 911.4L580.3 903.9L585.3 896.4L590.3 891.4L595.3 888.2L599.0 880.1L603.4 871.3L607.8 865.7L611.6 870.1L615.3 882.6L619.1 900.1L623.5 908.9L627.9 906.4L634.1 898.9L637.3 901.4L641.6 906.4L646.6 898.9L650.4 893.9L653.5 896.4L657.3 893.9L661.7 880.1L664.2 870.1L667.3 862.6L671.7 868.8L676.1 875.1L680.5 871.3L685.5 867.6L689.2 865.7L694.2 862.6L695.0 860.7L698.8 859.4L702.5 865.1L705.0 880.1L707.5 897.6L710.0 910.2L713.8 915.8L718.8 913.9L722.6 905.2L726.3 891.4L730.1 880.1L735.1 873.8L738.2 873.2L740.7 877.6L743.9 890.1L747.6 905.2L751.4 908.9L756.4 906.4L761.4 907.7L766.4 910.2L771.4 909.5L776.4 913.9L781.4 916.4L786.5 915.2L790.2 915.2L794.0 907.7L797.7 885.1L801.5 865.1L804.0 853.8L807.8 848.8L810.9 850.0L814.0 860.1L817.8 877.6L821.5 896.4L825.3 911.4L829.0 916.4L834.1 917.1L839.1 912.7L844.1 905.2L847.8 892.6L852.8 877.6L856.0 874.5L859.1 881.4L862.9 892.6L867.9 905.2L872.9 913.9L877.9 920.2L884.2 918.3L889.2 911.4L892.9 890.1L896.7 867.6L900.4 851.3L904.2 843.8L908.0 841.3L913.0 845.0L916.7 850.0L920.5 848.8L923.8 852.5L927.5 862.6L931.3 873.8L935.0 881.4L938.8 888.9L942.5 897.6L946.3 903.3L949.4 893.9L952.6 875.1L955.7 858.8L958.8 853.2L962.0 858.8L965.1 873.8L968.9 896.4L972.6 915.2L977.6 922.7L981.4 920.2L986.4 905.2L990.8 885.1L995.2 876.3L1000.2 868.8L1005.2 863.8L1008.9 863.8L1012.7 856.3L1016.5 850.7L1020.2 849.4L1024.0 851.3L1027.7 847.5L1030.2 846.3L1033.4 851.3L1036.5 865.1L1040.3 886.4L1044.0 903.9L1046.5 907.0L1050.3 901.4L1054.0 898.9L1057.8 902.7L1061.6 910.2L1064.1 913.3L1067.8 908.9L1071.6 897.6L1075.3 885.1L1079.1 877.6L1082.8 880.1L1085.4 880.7L1089.1 873.8L1092.2 869.5L1095.4 872.6L1099.1 890.1L1102.9 908.9L1106.6 920.2L1111.7 922.7L1116.7 920.2L1120.4 911.4L1124.2 895.1L1127.9 877.6L1131.7 873.8L1135.5 875.1L1140.5 870.1L1144.2 868.2L1149.2 868.2L1153.0 871.3L1156.8 872.6L1157.5 877.6L1161.3 883.9L1165.0 890.1L1168.8 897.6L1172.5 903.9L1176.3 905.8L1180.7 909.5L1185.1 907.7L1188.8 900.1L1192.6 895.1L1196.3 900.1L1200.1 910.2L1203.2 913.9L1208.9 909.5L1212.6 901.4L1218.9 892.0L1222.7 900.1L1226.4 911.4L1230.2 916.4L1236.4 909.5L1240.2 895.1L1243.9 877.6L1247.1 870.1L1250.2 877.6L1254.0 892.6L1257.7 903.3L1261.5 891.4L1265.2 880.1L1269.0 872.0L1272.8 875.1L1276.5 887.6L1280.3 905.2L1282.8 914.6L1286.5 907.7L1290.3 890.1L1294.1 870.1L1297.8 855.1L1302.8 847.5L1306.6 841.9L1309.7 838.1L1314.1 842.5L1317.9 847.5L1322.2 851.9L1325.4 858.8L1329.1 867.6L1332.9 873.8L1337.9 874.5L1342.9 873.8L1346.7 873.8L1350.4 862.6L1354.2 851.3L1357.9 844.4L1361.7 841.9L1366.7 843.2L1370.5 850.0L1374.2 857.6L1378.0 862.6L1383.0 867.6L1386.1 877.6L1386.3 882.6L1390.0 895.1L1393.8 903.9L1396.9 902.7L1401.3 895.1L1405.1 888.2L1408.8 891.4L1412.6 901.4L1416.3 911.4L1420.1 906.4L1423.2 887.6L1427.0 870.1L1430.1 865.1L1433.9 866.3L1437.6 862.6L1441.4 855.1L1445.1 846.3L1448.9 841.3L1452.7 845.0L1456.4 853.8L1461.4 863.2L1466.4 858.8L1470.2 856.3L1473.9 858.8L1476.5 862.6L1480.2 861.3L1484.6 861.3L1487.7 867.6L1490.2 878.9L1492.7 891.4L1495.2 903.9L1497.8 905.2L1501.5 900.1L1506.5 894.5L1510.3 897.6L1514.0 902.7L1519.0 906.4L1524.1 912.7L1528.4 918.9L1532.2 912.7L1536.6 902.7L1541.0 895.1L1544.1 895.8L1547.9 898.9L1551.6 898.9L1556.6 891.4L1561.6 886.4L1565.4 883.9L1567.9 880.1L1571.7 868.8L1576.0 858.2L1579.2 863.8L1582.9 880.1L1586.1 897.6L1589.2 908.9L1591.7 911.4L1595.5 907.7L1600.5 901.4L1604.2 906.4L1609.2 911.4L1610.0 913.9L1613.8 915.2L1617.5 915.8L1621.3 911.4L1624.4 902.7L1627.5 886.4L1630.7 872.6L1633.8 865.7L1637.6 872.6L1640.7 878.9L1644.4 867.6L1648.2 856.3L1652.0 846.3L1655.1 844.4L1658.2 848.8L1661.4 863.8L1665.1 881.4L1668.9 897.6L1672.6 905.2L1676.4 908.9L1679.5 910.2L1682.7 905.2L1686.4 896.4L1691.4 887.0L1695.2 882.6L1700.2 870.1L1703.9 857.6L1707.7 849.4L1711.5 857.6L1715.2 880.1L1719.0 900.1L1722.1 912.7L1724.6 914.6L1727.8 907.7L1730.9 892.6L1734.0 876.3L1738.4 866.3L1742.2 871.3L1746.5 862.6L1749.7 853.8L1752.8 844.4L1756.6 852.5L1759.7 870.1L1762.8 888.9L1766.0 905.2L1769.1 913.3L1772.8 910.2L1776.6 898.9L1779.7 886.4L1782.9 876.3L1785.4 873.8L1787.9 877.6L1791.0 882.6L1793.5 889.5" stroke="#ff0000" stroke-width="1" fill="none" shape-rendering="crispEdges"/>
<path d="M29.4 873.2L38.2 856.6L41.3 876.3L48.2 906.2L52.6 890.1L58.9 861.3L61.4 851.3L65.1 847.5L70.1 846.3L73.9 850.0L76.4 845.7L78.9 846.9L81.4 854.4L86.4 878.9L88.9 891.4L93.3 896.4L95.2 888.9L100.2 878.9L104.0 862.8L107.7 873.8L110.2 886.4L113.4 903.9L117.1 904.5L120.3 906.4L125.3 912.0L129.0 907.7L132.8 886.4L136.5 871.3L139.0 867.6L144.1 851.3L147.8 848.5L151.6 854.4L154.1 873.8L157.2 905.2L159.1 913.9L163.5 918.9L167.9 911.4L172.9 880.1L176.6 866.3L180.4 860.1L182.9 861.3L186.6 853.8L190.4 842.5L193.5 836.3L196.0 835.6L197.9 839.4L201.7 840.0L205.4 843.8L207.9 841.3L213.0 840.0L216.7 845.0L221.7 851.3L225.5 851.3L227.4 846.9L230.5 850.7L232.5 855.1L235.0 877.6L237.5 895.1L238.8 903.9L240.6 907.0L245.0 904.5L248.8 906.4L254.4 911.4L257.6 905.2L261.9 897.6L266.3 905.2L270.1 900.1L272.6 888.9L274.5 867.6L277.0 859.4L279.5 861.3L282.6 868.8L285.7 886.4L290.1 897.6L292.6 895.1L296.4 896.4L298.3 898.9L301.4 890.8L302.7 896.4L305.2 906.4L310.2 912.7L311.4 916.4L312.7 906.4L316.4 906.4L318.3 893.9L320.2 875.7L322.7 877.0L326.5 877.0L329.0 882.6L332.7 912.7L335.2 915.2L339.0 917.1L341.5 917.7L345.2 918.9L350.3 912.7L354.0 905.2L357.8 906.4L360.9 902.0L364.0 908.9L367.8 917.7L371.6 921.4L375.3 918.9L379.1 910.2L381.6 892.6L383.5 867.6L386.6 856.3L389.1 862.6L392.8 880.1L396.6 898.9L400.4 911.4L402.9 918.3L405.4 911.4L409.1 898.9L411.6 877.6L414.1 856.9L417.9 862.6L421.7 882.6L425.4 905.2L427.3 913.9L431.7 913.9L435.4 912.0L439.2 902.7L443.0 877.6L446.7 856.9L449.2 862.6L453.0 885.1L456.7 908.9L459.2 915.2L463.6 918.3L463.8 918.3L467.5 910.2L471.3 895.1L474.4 882.6L477.5 876.3L480.0 880.1L483.2 892.6L486.9 910.2L490.1 916.4L493.2 917.1L495.7 912.7L497.6 895.1L500.1 870.1L502.0 851.3L503.2 845.0L505.3 839.4L507.4 843.2L509.5 841.3L512.6 842.5L515.1 845.0L518.2 846.3L521.4 851.3L523.9 865.1L525.8 880.1L527.6 900.1L530.1 918.9L532.7 920.2L535.2 922.1L538.9 921.4L542.7 923.3L545.2 918.9L547.7 919.6L552.7 919.6L555.8 925.2L559.0 915.2L563.3 910.2L565.8 912.7L567.7 921.4L570.2 919.6L572.7 912.7L576.5 903.9L579.0 898.3L582.1 895.1L584.6 890.8L586.5 889.5L589.0 893.9L592.2 887.6L595.3 885.1L597.8 873.8L601.6 866.3L604.7 859.4L607.8 863.8L610.3 873.8L612.8 892.6L615.3 908.3L620.3 908.3L623.5 910.2L626.6 903.9L629.7 900.1L632.2 891.4L634.1 902.7L637.3 911.4L640.4 905.2L642.9 896.4L646.0 889.5L649.2 892.6L651.7 897.6L654.2 902.0L656.7 897.6L659.2 872.6L661.1 862.6L663.6 858.6L666.1 861.3L668.6 873.8L672.3 877.0L675.5 873.8L678.6 865.7L682.3 866.3L685.5 864.4L688.6 865.1L691.7 858.2L694.2 860.1L696.8 855.7L698.8 860.1L701.3 870.1L702.5 882.6L703.8 897.6L705.7 912.7L707.5 915.2L711.3 915.8L715.1 915.2L720.1 910.2L722.6 892.6L725.1 878.9L727.6 876.3L730.1 875.7L733.8 871.3L737.0 872.6L739.5 878.9L741.4 892.6L743.9 908.9L746.4 913.3L748.9 908.3L755.1 904.5L758.3 907.7L762.7 912.0L766.4 909.5L771.4 908.9L775.2 920.2L777.7 916.4L781.4 913.3L785.2 913.3L787.7 918.3L791.5 915.2L792.7 907.7L795.2 882.6L797.7 863.8L799.6 847.5L801.5 843.8L804.0 847.5L806.5 852.5L809.6 851.3L811.5 853.8L813.4 871.3L815.3 885.1L817.8 900.1L820.3 916.4L824.0 912.7L827.8 916.4L832.8 918.3L836.6 911.4L840.3 903.9L846.0 891.4L848.5 876.3L851.6 867.0L854.1 871.3L856.6 883.9L859.1 900.1L862.9 903.9L865.4 908.9L869.1 913.9L873.5 923.3L877.9 920.2L882.9 918.9L886.7 915.2L889.2 903.9L891.7 877.6L893.6 857.6L896.1 843.8L900.4 841.9L905.5 839.4L909.2 841.3L912.3 851.3L916.7 851.3L921.1 841.9L923.0 855.1L925.0 866.3L928.8 875.1L931.3 882.6L933.8 881.4L937.5 888.9L940.7 900.1L943.2 911.4L946.3 902.7L949.4 873.8L951.9 855.1L953.8 845.7L955.7 851.3L957.6 855.1L960.1 866.3L963.2 885.1L966.3 905.2L968.2 917.7L970.7 923.3L975.1 921.4L978.9 922.7L981.4 917.7L983.9 900.1L986.4 890.1L989.5 877.6L991.4 875.1L995.2 866.3L998.3 859.4L1000.8 862.6L1003.3 870.1L1005.2 865.1L1008.9 863.8L1010.8 852.5L1013.3 845.7L1016.5 850.0L1021.5 853.2L1024.6 848.8L1027.7 843.2L1030.2 845.7L1032.1 853.8L1035.2 880.1L1038.4 905.2L1040.3 915.2L1043.4 903.9L1046.5 898.9L1049.7 895.1L1052.8 902.7L1056.5 911.4L1059.0 912.7L1062.2 918.3L1065.3 910.2L1067.8 901.4L1071.6 880.1L1075.3 870.7L1077.8 877.6L1081.6 887.0L1084.7 878.9L1087.9 871.3L1091.0 857.6L1093.5 867.6L1096.6 885.1L1098.5 905.2L1100.4 918.9L1104.1 922.7L1109.2 923.3L1114.2 921.4L1117.9 910.2L1121.1 886.4L1124.2 867.6L1126.7 871.3L1130.4 881.4L1133.0 875.1L1137.3 864.4L1140.5 868.8L1144.9 873.8L1147.4 862.6L1150.5 871.3L1154.2 878.9L1156.8 882.6L1156.9 882.6L1159.4 886.4L1163.2 889.5L1166.3 900.1L1170.0 905.2L1172.5 906.4L1175.1 903.9L1177.6 907.7L1180.7 917.1L1183.8 902.7L1187.0 893.9L1190.1 889.5L1193.2 900.1L1196.3 911.4L1199.5 915.8L1202.0 916.4L1205.1 911.4L1208.2 905.2L1211.4 890.1L1213.3 888.2L1216.4 890.8L1219.5 893.3L1221.4 908.9L1223.9 915.8L1227.7 915.8L1229.5 917.1L1232.7 910.2L1236.4 896.4L1240.2 876.3L1242.7 865.7L1245.2 868.2L1247.7 875.1L1250.2 890.1L1252.7 902.7L1254.6 913.9L1257.7 892.6L1261.5 877.6L1264.0 871.3L1266.5 865.7L1269.0 871.3L1270.9 880.1L1273.4 892.6L1275.9 907.7L1279.7 915.8L1282.8 911.4L1286.5 898.9L1289.0 876.3L1290.9 863.8L1293.4 851.3L1295.9 848.2L1299.1 846.3L1301.6 842.5L1304.7 838.8L1307.2 837.5L1310.3 839.4L1312.8 843.8L1317.9 851.3L1322.2 854.4L1324.1 863.8L1326.6 870.1L1330.4 878.9L1334.1 873.2L1336.6 875.7L1340.4 872.6L1344.2 877.6L1346.7 870.1L1349.2 857.6L1351.7 841.9L1355.4 841.9L1357.9 842.5L1360.4 841.3L1364.2 843.8L1368.0 851.3L1371.7 861.3L1374.2 865.1L1378.0 865.1L1381.1 868.2L1383.6 877.6L1385.5 896.4L1386.9 900.1L1389.4 903.9L1391.9 908.9L1394.4 902.7L1396.3 895.1L1398.8 892.6L1400.7 886.4L1402.5 880.7L1405.1 890.1L1407.6 900.1L1410.1 910.2L1412.6 915.2L1415.1 914.6L1417.6 907.7L1420.1 887.6L1422.0 870.1L1423.8 862.6L1425.3 856.3L1427.6 863.8L1429.5 870.1L1431.4 873.2L1433.9 867.6L1435.7 865.1L1438.2 853.8L1440.1 847.5L1441.4 840.6L1443.3 840.0L1445.8 841.9L1448.3 841.3L1450.1 842.5L1452.0 848.8L1455.2 861.3L1458.3 866.3L1461.4 862.6L1463.9 855.1L1466.4 846.9L1468.3 862.6L1470.2 861.9L1472.7 863.2L1476.5 866.3L1479.0 856.9L1481.5 859.4L1484.6 861.3L1486.5 873.8L1488.4 890.1L1490.9 900.1L1493.4 912.0L1495.9 903.9L1499.0 896.4L1503.4 889.5L1506.5 897.6L1509.7 905.2L1511.5 910.2L1514.0 905.2L1517.2 904.5L1520.3 907.7L1523.4 918.9L1527.2 922.1L1529.7 916.4L1532.2 902.7L1536.0 894.5L1538.5 888.2L1541.0 896.4L1542.8 901.4L1546.6 902.0L1549.7 903.3L1551.6 893.9L1554.1 887.6L1556.6 885.7L1560.4 884.5L1562.9 890.1L1564.8 880.1L1567.9 865.1L1571.3 851.3L1574.2 860.1L1576.7 867.6L1579.8 886.4L1582.9 903.9L1585.4 912.7L1587.3 920.2L1590.4 912.7L1595.5 895.1L1598.6 902.7L1603.0 912.7L1606.7 915.2L1610.5 917.7L1612.5 915.8L1615.0 915.2L1616.9 918.3L1618.1 912.7L1621.3 905.2L1623.8 898.9L1626.3 873.8L1628.8 858.8L1630.4 854.4L1632.5 862.6L1634.4 876.3L1637.6 885.1L1640.1 881.4L1642.6 867.6L1645.1 851.3L1647.6 843.8L1649.5 840.3L1652.6 842.5L1655.1 845.0L1657.6 855.1L1660.1 868.8L1662.6 887.6L1665.1 900.1L1667.6 903.9L1671.4 905.2L1672.6 911.4L1674.5 915.2L1677.6 910.2L1680.1 901.4L1682.7 893.9L1685.2 891.4L1687.7 886.4L1690.2 881.4L1692.7 881.4L1695.2 877.6L1697.7 868.8L1700.2 855.1L1702.7 843.2L1705.2 844.4L1707.7 852.5L1710.2 867.6L1712.7 882.6L1715.2 900.1L1717.7 912.7L1721.5 921.4L1724.0 910.2L1726.5 898.9L1729.0 880.1L1731.5 858.8L1734.0 862.6L1736.5 866.3L1739.0 871.3L1741.5 879.5L1743.4 867.6L1745.3 850.0L1747.2 841.3L1749.7 838.1L1752.2 843.8L1754.1 852.5L1756.6 867.6L1759.1 883.9L1760.9 905.2L1762.2 915.2L1766.6 915.2L1770.3 913.3L1772.8 907.7L1775.4 890.1L1777.2 880.1L1779.4 871.3L1781.6 875.1L1783.5 873.8L1785.4 877.6L1787.9 881.4L1790.4 892.6L1793.5 905.2" stroke="#000" stroke-width="1" fill="none" shape-rendering="crispEdges"/>
<text x="1548" y="908" font-size="12.8" fill="#000" textLength="38" lengthAdjust="spacing">20.000</text>
<rect x="5.5" y="834.5" width="47" height="14" fill="#fff" stroke="#000" stroke-width="1" shape-rendering="crispEdges"/>
<text x="8" y="846" font-size="12" fill="#000">Sto(9/5)</text>
<rect x="55.5" y="835.5" width="12" height="12" fill="#fff" stroke="#000" stroke-width="1" shape-rendering="crispEdges"/>
<path d="M57 840h9v2h-9zM60.5 837h2v9h-2z" fill="#000"/>
<rect x="7" y="851" width="21" height="11" fill="#fff"/>
<text x="8" y="861" font-size="12" fill="#000">%K</text>
<text x="8" y="876" font-size="12" fill="#ff0000">%D</text>
<text x="1843" y="32" font-size="12.8" fill="#000" textLength="31" lengthAdjust="spacing">3.000</text>
<text x="1843" y="68" font-size="12.8" fill="#000" textLength="31" lengthAdjust="spacing">2.875</text>
<text x="1843" y="104" font-size="12.8" fill="#000" textLength="31" lengthAdjust="spacing">2.750</text>
<text x="1843" y="140" font-size="12.8" fill="#000" textLength="31" lengthAdjust="spacing">2.625</text>
<text x="1843" y="176" font-size="12.8" fill="#000" textLength="31" lengthAdjust="spacing">2.500</text>
<text x="1843" y="212" font-size="12.8" fill="#000" textLength="31" lengthAdjust="spacing">2.375</text>
<text x="1843" y="248" font-size="12.8" fill="#000" textLength="31" lengthAdjust="spacing">2.250</text>
<text x="1843" y="284" font-size="12.8" fill="#000" textLength="31" lengthAdjust="spacing">2.125</text>
<text x="1843" y="320" font-size="12.8" fill="#000" textLength="31" lengthAdjust="spacing">2.000</text>
<text x="1843" y="357" font-size="12.8" fill="#000" textLength="31" lengthAdjust="spacing">1.875</text>
<text x="1843" y="393" font-size="12.8" fill="#000" textLength="31" lengthAdjust="spacing">1.750</text>
<text x="1843" y="429" font-size="12.8" fill="#000" textLength="31" lengthAdjust="spacing">1.625</text>
<text x="1843" y="465" font-size="12.8" fill="#000" textLength="31" lengthAdjust="spacing">1.500</text>
<text x="1843" y="501" font-size="12.8" fill="#000" textLength="31" lengthAdjust="spacing">1.375</text>
<text x="1843" y="537" font-size="12.8" fill="#000" textLength="31" lengthAdjust="spacing">1.250</text>
<text x="1843" y="573" font-size="12.8" fill="#000" textLength="31" lengthAdjust="spacing">1.125</text>
<text x="1843" y="609" font-size="12.8" fill="#000" textLength="31" lengthAdjust="spacing">1.000</text>
<text x="1843" y="645" font-size="12.8" fill="#000" textLength="31" lengthAdjust="spacing">0.875</text>
<text x="1843" y="682" font-size="12.8" fill="#000" textLength="31" lengthAdjust="spacing">0.750</text>
<text x="1843" y="718" font-size="12.8" fill="#000" textLength="31" lengthAdjust="spacing">0.625</text>
<text x="1843" y="754" font-size="12.8" fill="#000" textLength="31" lengthAdjust="spacing">0.500</text>
<text x="1843" y="790" font-size="12.8" fill="#000" textLength="31" lengthAdjust="spacing">0.375</text>
<text x="1843" y="821" font-size="12.8" fill="#000" textLength="31" lengthAdjust="spacing">0.250</text>
<text x="1843" y="861" font-size="12.8" fill="#000" textLength="31" lengthAdjust="spacing">75.00</text>
<text x="1843" y="885" font-size="12.8" fill="#000" textLength="31" lengthAdjust="spacing">50.00</text>
<rect x="1838" y="786" width="77" height="14" fill="#0000ff"/>
<path d="M1838 793.5H1842" stroke="#fff" stroke-width="1"/>
<text x="1843" y="798" font-size="12.8" fill="#fff" textLength="31" lengthAdjust="spacing">0.347</text>
<rect x="1838" y="883" width="77" height="14" fill="#ff0000"/>
<path d="M1838 890.5H1842" stroke="#fff" stroke-width="1"/>
<text x="1843" y="895" font-size="12.8" fill="#fff" textLength="38" lengthAdjust="spacing">39.740</text>
<rect x="1838" y="899" width="77" height="14" fill="#000"/>
<path d="M1838 906.5H1842" stroke="#fff" stroke-width="1"/>
<text x="1843" y="911" font-size="12.8" fill="#fff" textLength="38" lengthAdjust="spacing">22.727</text>
<text x="10.5" y="945" font-size="12.8" fill="#000" textLength="48" lengthAdjust="spacing">29.10.24</text>
<text x="97.5" y="945" font-size="12.8" fill="#000" text-anchor="end" textLength="14" lengthAdjust="spacing">06</text>
<text x="99.5" y="945" font-size="12.8" fill="#000" textLength="14" lengthAdjust="spacing">21</text>
<text x="140.5" y="945" font-size="12.8" fill="#000" text-anchor="end" textLength="14" lengthAdjust="spacing">07</text>
<text x="142.5" y="945" font-size="12.8" fill="#000" textLength="14" lengthAdjust="spacing">21</text>
<text x="183.5" y="945" font-size="12.8" fill="#000" text-anchor="end" textLength="14" lengthAdjust="spacing">08</text>
<text x="185.5" y="945" font-size="12.8" fill="#000" textLength="14" lengthAdjust="spacing">21</text>
<text x="226.5" y="945" font-size="12.8" fill="#000" text-anchor="end" textLength="14" lengthAdjust="spacing">09</text>
<text x="228.5" y="945" font-size="12.8" fill="#000" textLength="14" lengthAdjust="spacing">21</text>
<text x="269.5" y="945" font-size="12.8" fill="#000" text-anchor="end" textLength="14" lengthAdjust="spacing">10</text>
<text x="271.5" y="945" font-size="12.8" fill="#000" textLength="14" lengthAdjust="spacing">21</text>
<text x="309.5" y="945" font-size="12.8" fill="#000" text-anchor="end" textLength="14" lengthAdjust="spacing">11</text>
<text x="311.5" y="945" font-size="12.8" fill="#000" textLength="14" lengthAdjust="spacing">21</text>
<text x="352.5" y="945" font-size="12.8" fill="#000" text-anchor="end" textLength="14" lengthAdjust="spacing">12</text>
<text x="354.5" y="945" font-size="12.8" fill="#000" textLength="14" lengthAdjust="spacing">21</text>
<text x="393.5" y="945" font-size="12.8" fill="#000" text-anchor="end" textLength="14" lengthAdjust="spacing">01</text>
<text x="395.5" y="945" font-size="12.8" fill="#000" textLength="14" lengthAdjust="spacing">22</text>
<text x="434.5" y="945" font-size="12.8" fill="#000" text-anchor="end" textLength="14" lengthAdjust="spacing">02</text>
<text x="436.5" y="945" font-size="12.8" fill="#000" textLength="14" lengthAdjust="spacing">22</text>
<text x="473.5" y="945" font-size="12.8" fill="#000" text-anchor="end" textLength="14" lengthAdjust="spacing">03</text>
<text x="475.5" y="945" font-size="12.8" fill="#000" textLength="14" lengthAdjust="spacing">22</text>
<text x="518.5" y="945" font-size="12.8" fill="#000" text-anchor="end" textLength="14" lengthAdjust="spacing">04</text>
<text x="520.5" y="945" font-size="12.8" fill="#000" textLength="14" lengthAdjust="spacing">22</text>
<text x="555.5" y="945" font-size="12.8" fill="#000" text-anchor="end" textLength="14" lengthAdjust="spacing">05</text>
<text x="557.5" y="945" font-size="12.8" fill="#000" textLength="14" lengthAdjust="spacing">22</text>
<text x="595.5" y="945" font-size="12.8" fill="#000" text-anchor="end" textLength="14" lengthAdjust="spacing">06</text>
<text x="597.5" y="945" font-size="12.8" fill="#000" textLength="14" lengthAdjust="spacing">22</text>
<text x="636.5" y="945" font-size="12.8" fill="#000" text-anchor="end" textLength="14" lengthAdjust="spacing">07</text>
<text x="638.5" y="945" font-size="12.8" fill="#000" textLength="14" lengthAdjust="spacing">22</text>
<text x="677.5" y="945" font-size="12.8" fill="#000" text-anchor="end" textLength="14" lengthAdjust="spacing">08</text>
<text x="679.5" y="945" font-size="12.8" fill="#000" textLength="14" lengthAdjust="spacing">22</text>
<text x="720.5" y="945" font-size="12.8" fill="#000" text-anchor="end" textLength="14" lengthAdjust="spacing">09</text>
<text x="722.5" y="945" font-size="12.8" fill="#000" textLength="14" lengthAdjust="spacing">22</text>
<text x="763.5" y="945" font-size="12.8" fill="#000" text-anchor="end" textLength="14" lengthAdjust="spacing">10</text>
<text x="765.5" y="945" font-size="12.8" fill="#000" textLength="14" lengthAdjust="spacing">22</text>
<text x="804.5" y="945" font-size="12.8" fill="#000" text-anchor="end" textLength="14" lengthAdjust="spacing">11</text>
<text x="806.5" y="945" font-size="12.8" fill="#000" textLength="14" lengthAdjust="spacing">22</text>
<text x="846.5" y="945" font-size="12.8" fill="#000" text-anchor="end" textLength="14" lengthAdjust="spacing">12</text>
<text x="848.5" y="945" font-size="12.8" fill="#000" textLength="14" lengthAdjust="spacing">22</text>
<text x="887.5" y="945" font-size="12.8" fill="#000" text-anchor="end" textLength="14" lengthAdjust="spacing">01</text>
<text x="889.5" y="945" font-size="12.8" fill="#000" textLength="14" lengthAdjust="spacing">23</text>
<text x="928.5" y="945" font-size="12.8" fill="#000" text-anchor="end" textLength="14" lengthAdjust="spacing">02</text>
<text x="930.5" y="945" font-size="12.8" fill="#000" textLength="14" lengthAdjust="spacing">23</text>
<text x="967.5" y="945" font-size="12.8" fill="#000" text-anchor="end" textLength="14" lengthAdjust="spacing">03</text>
<text x="969.5" y="945" font-size="12.8" fill="#000" textLength="14" lengthAdjust="spacing">23</text>
<text x="1012.5" y="945" font-size="12.8" fill="#000" text-anchor="end" textLength="14" lengthAdjust="spacing">04</text>
<text x="1014.5" y="945" font-size="12.8" fill="#000" textLength="14" lengthAdjust="spacing">23</text>
<text x="1047.5" y="945" font-size="12.8" fill="#000" text-anchor="end" textLength="14" lengthAdjust="spacing">05</text>
<text x="1049.5" y="945" font-size="12.8" fill="#000" textLength="14" lengthAdjust="spacing">23</text>
<text x="1090.5" y="945" font-size="12.8" fill="#000" text-anchor="end" textLength="14" lengthAdjust="spacing">06</text>
<text x="1092.5" y="945" font-size="12.8" fill="#000" textLength="14" lengthAdjust="spacing">23</text>
<text x="1132.5" y="945" font-size="12.8" fill="#000" text-anchor="end" textLength="14" lengthAdjust="spacing">07</text>
<text x="1134.5" y="945" font-size="12.8" fill="#000" textLength="14" lengthAdjust="spacing">23</text>
<text x="1173.5" y="945" font-size="12.8" fill="#000" text-anchor="end" textLength="14" lengthAdjust="spacing">08</text>
<text x="1175.5" y="945" font-size="12.8" fill="#000" textLength="14" lengthAdjust="spacing">23</text>
<text x="1218.5" y="945" font-size="12.8" fill="#000" text-anchor="end" textLength="14" lengthAdjust="spacing">09</text>
<text x="1220.5" y="945" font-size="12.8" fill="#000" textLength="14" lengthAdjust="spacing">23</text>
<text x="1259.5" y="945" font-size="12.8" fill="#000" text-anchor="end" textLength="14" lengthAdjust="spacing">10</text>
<text x="1261.5" y="945" font-size="12.8" fill="#000" textLength="14" lengthAdjust="spacing">23</text>
<text x="1302.5" y="945" font-size="12.8" fill="#000" text-anchor="end" textLength="14" lengthAdjust="spacing">11</text>
<text x="1304.5" y="945" font-size="12.8" fill="#000" textLength="14" lengthAdjust="spacing">23</text>
<text x="1345.5" y="945" font-size="12.8" fill="#000" text-anchor="end" textLength="14" lengthAdjust="spacing">12</text>
<text x="1347.5" y="945" font-size="12.8" fill="#000" textLength="14" lengthAdjust="spacing">23</text>
<text x="1382.5" y="945" font-size="12.8" fill="#000" text-anchor="end" textLength="14" lengthAdjust="spacing">01</text>
<text x="1384.5" y="945" font-size="12.8" fill="#000" textLength="14" lengthAdjust="spacing">24</text>
<text x="1424.5" y="945" font-size="12.8" fill="#000" text-anchor="end" textLength="14" lengthAdjust="spacing">02</text>
<text x="1426.5" y="945" font-size="12.8" fill="#000" textLength="14" lengthAdjust="spacing">24</text>
<text x="1465.5" y="945" font-size="12.8" fill="#000" text-anchor="end" textLength="14" lengthAdjust="spacing">03</text>
<text x="1467.5" y="945" font-size="12.8" fill="#000" textLength="14" lengthAdjust="spacing">24</text>
<text x="1504.5" y="945" font-size="12.8" fill="#000" text-anchor="end" textLength="14" lengthAdjust="spacing">04</text>
<text x="1506.5" y="945" font-size="12.8" fill="#000" textLength="14" lengthAdjust="spacing">24</text>
<text x="1545.5" y="945" font-size="12.8" fill="#000" text-anchor="end" textLength="14" lengthAdjust="spacing">05</text>
<text x="1547.5" y="945" font-size="12.8" fill="#000" textLength="14" lengthAdjust="spacing">24</text>
<text x="1588.5" y="945" font-size="12.8" fill="#000" text-anchor="end" textLength="14" lengthAdjust="spacing">06</text>
<text x="1590.5" y="945" font-size="12.8" fill="#000" textLength="14" lengthAdjust="spacing">24</text>
<text x="1627.5" y="945" font-size="12.8" fill="#000" text-anchor="end" textLength="14" lengthAdjust="spacing">07</text>
<text x="1629.5" y="945" font-size="12.8" fill="#000" textLength="14" lengthAdjust="spacing">24</text>
<text x="1671.5" y="945" font-size="12.8" fill="#000" text-anchor="end" textLength="14" lengthAdjust="spacing">08</text>
<text x="1673.5" y="945" font-size="12.8" fill="#000" textLength="14" lengthAdjust="spacing">24</text>
<text x="1714.5" y="945" font-size="12.8" fill="#000" text-anchor="end" textLength="14" lengthAdjust="spacing">09</text>
<text x="1716.5" y="945" font-size="12.8" fill="#000" textLength="14" lengthAdjust="spacing">24</text>
<text x="1755.5" y="945" font-size="12.8" fill="#000" text-anchor="end" textLength="14" lengthAdjust="spacing">10</text>
<text x="1757.5" y="945" font-size="12.8" fill="#000" textLength="14" lengthAdjust="spacing">24</text>
<text x="1800.5" y="945" font-size="12.8" fill="#000" text-anchor="end" textLength="14" lengthAdjust="spacing">11</text>
<text x="1802.5" y="945" font-size="12.8" fill="#000" textLength="14" lengthAdjust="spacing">24</text>
<text x="1827" y="945" font-size="12" fill="#000">-</text>
<rect x="1906.5" y="17.5" width="8" height="8" fill="#fff" stroke="#c0c0c0" stroke-width="1" shape-rendering="crispEdges"/>
<path d="M1908 21.5H1913" stroke="#b0b0b0" stroke-width="1" shape-rendering="crispEdges"/>
<text x="126" y="21" font-size="14" font-weight="bold" fill="#000" textLength="101.5" lengthAdjust="spacingAndGlyphs">CARDANO USD</text>
<text x="328" y="24" font-size="12.5" fill="#000" stroke="#000" stroke-width="0.25" style="font-family:'Liberation Serif',serif" textLength="1104" lengthAdjust="spacingAndGlyphs">Haftungsausschluss für Inhalte: Alle Trendkanäle bzw. andere Linien, oder Grafiken hier sind keine Empfehlungen, oder Beratung, sondern die zeigen lediglich meine eigene Einschätzung. Alle Chartdaten sind ohne Gewähr.&#160; www.wikifolio.com/de/de/p/cyberwaehrungen</text>
<rect x="0.5" y="0.5" width="1915" height="947" fill="none" stroke="#000" stroke-width="1" shape-rendering="crispEdges"/>
</svg></body></html>
